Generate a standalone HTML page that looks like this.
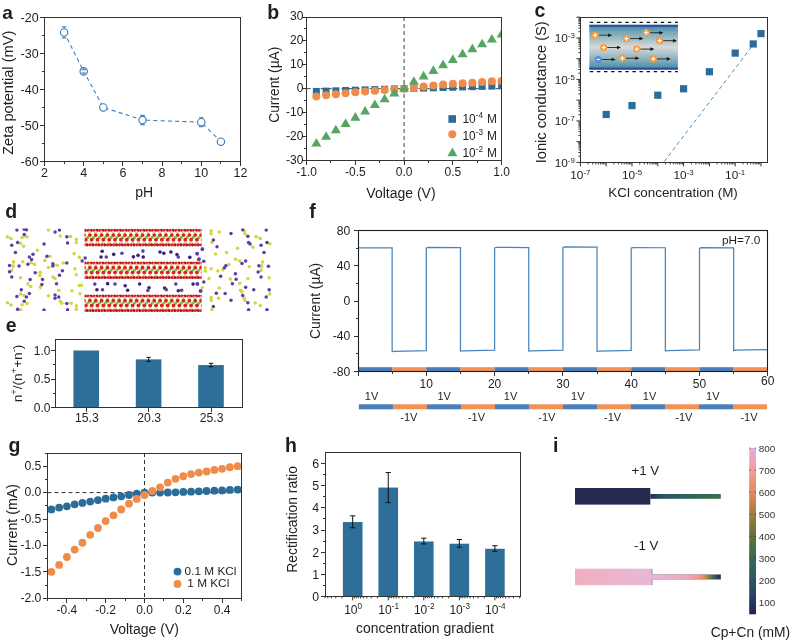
<!DOCTYPE html>
<html><head><meta charset="utf-8"><style>
html,body{margin:0;padding:0;background:#fff;overflow:hidden;}
svg{display:block;will-change:transform;font-family:"Liberation Sans", sans-serif;}
</style></head><body>
<svg width="791" height="640" viewBox="0 0 791 640">
<rect width="791" height="640" fill="#fff"/>
<text x="2.30" y="18.50" font-size="19.0" text-anchor="start" fill="#1e1e1e" font-weight="bold">a</text>
<path d="M64.10,32.44 C64.10,32.44 83.70,71.38 83.70,71.38 C83.70,71.38 103.30,107.42 103.30,107.42 C103.30,107.42 142.50,120.04 142.50,120.04 C142.50,120.04 201.30,122.21 201.30,122.21 C201.30,122.21 220.90,141.67 220.90,141.67" fill="none" stroke="#3f7fbc" stroke-width="1.1" stroke-dasharray="4,3.2"/>
<circle cx="64.10" cy="32.44" r="3.7" fill="#fff" stroke="#3f7fbc" stroke-width="1.15"/>
<line x1="64.10" y1="28.74" x2="64.10" y2="26.85" stroke="#3f7fbc" stroke-width="1"/>
<line x1="64.10" y1="36.14" x2="64.10" y2="38.03" stroke="#3f7fbc" stroke-width="1"/>
<line x1="61.80" y1="26.85" x2="66.40" y2="26.85" stroke="#3f7fbc" stroke-width="1.1"/>
<line x1="61.80" y1="38.03" x2="66.40" y2="38.03" stroke="#3f7fbc" stroke-width="1.1"/>
<circle cx="83.70" cy="71.38" r="3.7" fill="#fff" stroke="#3f7fbc" stroke-width="1.15"/>
<line x1="83.70" y1="67.67" x2="83.70" y2="69.75" stroke="#3f7fbc" stroke-width="1"/>
<line x1="83.70" y1="75.08" x2="83.70" y2="73.00" stroke="#3f7fbc" stroke-width="1"/>
<line x1="81.40" y1="69.75" x2="86.00" y2="69.75" stroke="#3f7fbc" stroke-width="1.1"/>
<line x1="81.40" y1="73.00" x2="86.00" y2="73.00" stroke="#3f7fbc" stroke-width="1.1"/>
<circle cx="103.30" cy="107.42" r="3.7" fill="#fff" stroke="#3f7fbc" stroke-width="1.15"/>
<circle cx="142.50" cy="120.04" r="3.7" fill="#fff" stroke="#3f7fbc" stroke-width="1.15"/>
<line x1="142.50" y1="116.34" x2="142.50" y2="115.36" stroke="#3f7fbc" stroke-width="1"/>
<line x1="142.50" y1="123.74" x2="142.50" y2="124.73" stroke="#3f7fbc" stroke-width="1"/>
<line x1="140.20" y1="115.36" x2="144.80" y2="115.36" stroke="#3f7fbc" stroke-width="1.1"/>
<line x1="140.20" y1="124.73" x2="144.80" y2="124.73" stroke="#3f7fbc" stroke-width="1.1"/>
<circle cx="201.30" cy="122.21" r="3.7" fill="#fff" stroke="#3f7fbc" stroke-width="1.15"/>
<line x1="201.30" y1="118.51" x2="201.30" y2="117.70" stroke="#3f7fbc" stroke-width="1"/>
<line x1="201.30" y1="125.91" x2="201.30" y2="126.71" stroke="#3f7fbc" stroke-width="1"/>
<line x1="199.00" y1="117.70" x2="203.60" y2="117.70" stroke="#3f7fbc" stroke-width="1.1"/>
<line x1="199.00" y1="126.71" x2="203.60" y2="126.71" stroke="#3f7fbc" stroke-width="1.1"/>
<circle cx="220.90" cy="141.67" r="3.7" fill="#fff" stroke="#3f7fbc" stroke-width="1.15"/>
<rect x="44.50" y="17.50" width="196.00" height="144.00" fill="none" stroke="#333333" stroke-width="1"/>
<line x1="44.50" y1="161.00" x2="44.50" y2="166.00" stroke="#333333" stroke-width="1"/>
<line x1="83.50" y1="161.00" x2="83.50" y2="166.00" stroke="#333333" stroke-width="1"/>
<line x1="122.50" y1="161.00" x2="122.50" y2="166.00" stroke="#333333" stroke-width="1"/>
<line x1="162.50" y1="161.00" x2="162.50" y2="166.00" stroke="#333333" stroke-width="1"/>
<line x1="201.50" y1="161.00" x2="201.50" y2="166.00" stroke="#333333" stroke-width="1"/>
<line x1="240.50" y1="161.00" x2="240.50" y2="166.00" stroke="#333333" stroke-width="1"/>
<line x1="64.50" y1="161.00" x2="64.50" y2="164.00" stroke="#333333" stroke-width="1"/>
<line x1="103.50" y1="161.00" x2="103.50" y2="164.00" stroke="#333333" stroke-width="1"/>
<line x1="142.50" y1="161.00" x2="142.50" y2="164.00" stroke="#333333" stroke-width="1"/>
<line x1="181.50" y1="161.00" x2="181.50" y2="164.00" stroke="#333333" stroke-width="1"/>
<line x1="220.50" y1="161.00" x2="220.50" y2="164.00" stroke="#333333" stroke-width="1"/>
<line x1="40.00" y1="161.50" x2="45.00" y2="161.50" stroke="#333333" stroke-width="1"/>
<line x1="40.00" y1="125.50" x2="45.00" y2="125.50" stroke="#333333" stroke-width="1"/>
<line x1="40.00" y1="89.50" x2="45.00" y2="89.50" stroke="#333333" stroke-width="1"/>
<line x1="40.00" y1="53.50" x2="45.00" y2="53.50" stroke="#333333" stroke-width="1"/>
<line x1="40.00" y1="17.50" x2="45.00" y2="17.50" stroke="#333333" stroke-width="1"/>
<line x1="42.00" y1="143.50" x2="45.00" y2="143.50" stroke="#333333" stroke-width="1"/>
<line x1="42.00" y1="107.50" x2="45.00" y2="107.50" stroke="#333333" stroke-width="1"/>
<line x1="42.00" y1="71.50" x2="45.00" y2="71.50" stroke="#333333" stroke-width="1"/>
<line x1="42.00" y1="35.50" x2="45.00" y2="35.50" stroke="#333333" stroke-width="1"/>
<text x="44.50" y="177.00" font-size="12.5" text-anchor="middle" fill="#1e1e1e">2</text>
<text x="83.70" y="177.00" font-size="12.5" text-anchor="middle" fill="#1e1e1e">4</text>
<text x="122.90" y="177.00" font-size="12.5" text-anchor="middle" fill="#1e1e1e">6</text>
<text x="162.10" y="177.00" font-size="12.5" text-anchor="middle" fill="#1e1e1e">8</text>
<text x="201.30" y="177.00" font-size="12.5" text-anchor="middle" fill="#1e1e1e">10</text>
<text x="240.50" y="177.00" font-size="12.5" text-anchor="middle" fill="#1e1e1e">12</text>
<text x="38.60" y="166.00" font-size="12.5" text-anchor="end" fill="#1e1e1e">-60</text>
<text x="38.60" y="129.95" font-size="12.5" text-anchor="end" fill="#1e1e1e">-50</text>
<text x="38.60" y="93.90" font-size="12.5" text-anchor="end" fill="#1e1e1e">-40</text>
<text x="38.60" y="57.85" font-size="12.5" text-anchor="end" fill="#1e1e1e">-30</text>
<text x="38.60" y="21.80" font-size="12.5" text-anchor="end" fill="#1e1e1e">-20</text>
<text x="144.20" y="197.20" font-size="14.0" text-anchor="middle" fill="#1e1e1e">pH</text>
<text x="12.90" y="92.80" font-size="14.6" text-anchor="middle" fill="#1e1e1e" transform="rotate(-90 12.90 92.80)">Zeta potential (mV)</text>
<text x="267.20" y="19.00" font-size="19.5" text-anchor="start" fill="#1e1e1e" font-weight="bold">b</text>
<clipPath id="cb"><rect x="306.6" y="17.0" width="195.0" height="143.3"/></clipPath>
<line x1="404.10" y1="17.00" x2="404.10" y2="160.30" stroke="#444" stroke-width="1" stroke-dasharray="4,3"/>
<line x1="306.60" y1="88.65" x2="501.60" y2="88.65" stroke="#444" stroke-width="1" stroke-dasharray="4,3"/>
<g clip-path="url(#cb)">
<rect x="312.85" y="87.94" width="7.00" height="7.00" fill="#2b6d98"/>
<rect x="322.60" y="87.63" width="7.00" height="7.00" fill="#2b6d98"/>
<rect x="332.35" y="87.32" width="7.00" height="7.00" fill="#2b6d98"/>
<rect x="342.10" y="87.01" width="7.00" height="7.00" fill="#2b6d98"/>
<rect x="351.85" y="86.70" width="7.00" height="7.00" fill="#2b6d98"/>
<rect x="361.60" y="86.39" width="7.00" height="7.00" fill="#2b6d98"/>
<rect x="371.35" y="86.08" width="7.00" height="7.00" fill="#2b6d98"/>
<rect x="381.10" y="85.77" width="7.00" height="7.00" fill="#2b6d98"/>
<rect x="390.85" y="85.46" width="7.00" height="7.00" fill="#2b6d98"/>
<rect x="400.60" y="85.15" width="7.00" height="7.00" fill="#2b6d98"/>
<rect x="410.35" y="84.86" width="7.00" height="7.00" fill="#2b6d98"/>
<rect x="420.10" y="84.58" width="7.00" height="7.00" fill="#2b6d98"/>
<rect x="429.85" y="84.29" width="7.00" height="7.00" fill="#2b6d98"/>
<rect x="439.60" y="84.00" width="7.00" height="7.00" fill="#2b6d98"/>
<rect x="449.35" y="83.72" width="7.00" height="7.00" fill="#2b6d98"/>
<rect x="459.10" y="83.43" width="7.00" height="7.00" fill="#2b6d98"/>
<rect x="468.85" y="83.14" width="7.00" height="7.00" fill="#2b6d98"/>
<rect x="478.60" y="82.86" width="7.00" height="7.00" fill="#2b6d98"/>
<rect x="488.35" y="82.57" width="7.00" height="7.00" fill="#2b6d98"/>
<rect x="498.10" y="82.28" width="7.00" height="7.00" fill="#2b6d98"/>
<circle cx="316.35" cy="96.53" r="4" fill="#f08c4a"/>
<circle cx="326.10" cy="95.34" r="4" fill="#f08c4a"/>
<circle cx="335.85" cy="94.26" r="4" fill="#f08c4a"/>
<circle cx="345.60" cy="93.19" r="4" fill="#f08c4a"/>
<circle cx="355.35" cy="92.35" r="4" fill="#f08c4a"/>
<circle cx="365.10" cy="91.52" r="4" fill="#f08c4a"/>
<circle cx="374.85" cy="90.80" r="4" fill="#f08c4a"/>
<circle cx="384.60" cy="90.08" r="4" fill="#f08c4a"/>
<circle cx="394.35" cy="89.13" r="4" fill="#f08c4a"/>
<circle cx="404.10" cy="88.65" r="4" fill="#f08c4a"/>
<circle cx="413.85" cy="87.93" r="4" fill="#f08c4a"/>
<circle cx="423.60" cy="86.50" r="4" fill="#f08c4a"/>
<circle cx="433.35" cy="85.55" r="4" fill="#f08c4a"/>
<circle cx="443.10" cy="84.59" r="4" fill="#f08c4a"/>
<circle cx="452.85" cy="83.87" r="4" fill="#f08c4a"/>
<circle cx="462.60" cy="83.16" r="4" fill="#f08c4a"/>
<circle cx="472.35" cy="82.68" r="4" fill="#f08c4a"/>
<circle cx="482.10" cy="81.96" r="4" fill="#f08c4a"/>
<circle cx="491.85" cy="81.25" r="4" fill="#f08c4a"/>
<circle cx="501.60" cy="80.89" r="4" fill="#f08c4a"/>
<path d="M316.35,137.89 L321.35,146.49 L311.35,146.49Z" fill="#55a662"/>
<path d="M326.10,131.20 L331.10,139.80 L321.10,139.80Z" fill="#55a662"/>
<path d="M335.85,124.75 L340.85,133.35 L330.85,133.35Z" fill="#55a662"/>
<path d="M345.60,118.30 L350.60,126.90 L340.60,126.90Z" fill="#55a662"/>
<path d="M355.35,112.09 L360.35,120.69 L350.35,120.69Z" fill="#55a662"/>
<path d="M365.10,105.88 L370.10,114.48 L360.10,114.48Z" fill="#55a662"/>
<path d="M374.85,99.44 L379.85,108.04 L369.85,108.04Z" fill="#55a662"/>
<path d="M384.60,93.70 L389.60,102.30 L379.60,102.30Z" fill="#55a662"/>
<path d="M394.35,87.85 L399.35,96.45 L389.35,96.45Z" fill="#55a662"/>
<path d="M404.10,82.96 L409.10,91.56 L399.10,91.56Z" fill="#55a662"/>
<path d="M413.85,76.27 L418.85,84.87 L408.85,84.87Z" fill="#55a662"/>
<path d="M423.60,70.78 L428.60,79.38 L418.60,79.38Z" fill="#55a662"/>
<path d="M433.35,65.28 L438.35,73.88 L428.35,73.88Z" fill="#55a662"/>
<path d="M443.10,59.55 L448.10,68.15 L438.10,68.15Z" fill="#55a662"/>
<path d="M452.85,54.30 L457.85,62.90 L447.85,62.90Z" fill="#55a662"/>
<path d="M462.60,48.68 L467.60,57.28 L457.60,57.28Z" fill="#55a662"/>
<path d="M472.35,43.55 L477.35,52.15 L467.35,52.15Z" fill="#55a662"/>
<path d="M482.10,38.77 L487.10,47.37 L477.10,47.37Z" fill="#55a662"/>
<path d="M491.85,34.00 L496.85,42.60 L486.85,42.60Z" fill="#55a662"/>
<path d="M501.60,28.98 L506.60,37.58 L496.60,37.58Z" fill="#55a662"/>
</g>
<rect x="306.50" y="17.50" width="195.00" height="143.00" fill="none" stroke="#333333" stroke-width="1"/>
<line x1="306.50" y1="160.00" x2="306.50" y2="165.00" stroke="#333333" stroke-width="1"/>
<line x1="355.50" y1="160.00" x2="355.50" y2="165.00" stroke="#333333" stroke-width="1"/>
<line x1="404.50" y1="160.00" x2="404.50" y2="165.00" stroke="#333333" stroke-width="1"/>
<line x1="452.50" y1="160.00" x2="452.50" y2="165.00" stroke="#333333" stroke-width="1"/>
<line x1="501.50" y1="160.00" x2="501.50" y2="165.00" stroke="#333333" stroke-width="1"/>
<line x1="330.50" y1="160.00" x2="330.50" y2="163.00" stroke="#333333" stroke-width="1"/>
<line x1="379.50" y1="160.00" x2="379.50" y2="163.00" stroke="#333333" stroke-width="1"/>
<line x1="428.50" y1="160.00" x2="428.50" y2="163.00" stroke="#333333" stroke-width="1"/>
<line x1="477.50" y1="160.00" x2="477.50" y2="163.00" stroke="#333333" stroke-width="1"/>
<line x1="302.00" y1="160.50" x2="307.00" y2="160.50" stroke="#333333" stroke-width="1"/>
<line x1="302.00" y1="136.50" x2="307.00" y2="136.50" stroke="#333333" stroke-width="1"/>
<line x1="302.00" y1="112.50" x2="307.00" y2="112.50" stroke="#333333" stroke-width="1"/>
<line x1="302.00" y1="88.50" x2="307.00" y2="88.50" stroke="#333333" stroke-width="1"/>
<line x1="302.00" y1="64.50" x2="307.00" y2="64.50" stroke="#333333" stroke-width="1"/>
<line x1="302.00" y1="40.50" x2="307.00" y2="40.50" stroke="#333333" stroke-width="1"/>
<line x1="302.00" y1="17.50" x2="307.00" y2="17.50" stroke="#333333" stroke-width="1"/>
<line x1="304.00" y1="148.50" x2="307.00" y2="148.50" stroke="#333333" stroke-width="1"/>
<line x1="304.00" y1="124.50" x2="307.00" y2="124.50" stroke="#333333" stroke-width="1"/>
<line x1="304.00" y1="100.50" x2="307.00" y2="100.50" stroke="#333333" stroke-width="1"/>
<line x1="304.00" y1="76.50" x2="307.00" y2="76.50" stroke="#333333" stroke-width="1"/>
<line x1="304.00" y1="52.50" x2="307.00" y2="52.50" stroke="#333333" stroke-width="1"/>
<line x1="304.00" y1="28.50" x2="307.00" y2="28.50" stroke="#333333" stroke-width="1"/>
<text x="306.60" y="175.80" font-size="12.0" text-anchor="middle" fill="#1e1e1e">-1.0</text>
<text x="355.35" y="175.80" font-size="12.0" text-anchor="middle" fill="#1e1e1e">-0.5</text>
<text x="404.10" y="175.80" font-size="12.0" text-anchor="middle" fill="#1e1e1e">0.0</text>
<text x="452.85" y="175.80" font-size="12.0" text-anchor="middle" fill="#1e1e1e">0.5</text>
<text x="501.60" y="175.80" font-size="12.0" text-anchor="middle" fill="#1e1e1e">1.0</text>
<text x="303.40" y="163.70" font-size="12.0" text-anchor="end" fill="#1e1e1e">-30</text>
<text x="303.40" y="139.82" font-size="12.0" text-anchor="end" fill="#1e1e1e">-20</text>
<text x="303.40" y="115.93" font-size="12.0" text-anchor="end" fill="#1e1e1e">-10</text>
<text x="303.40" y="92.05" font-size="12.0" text-anchor="end" fill="#1e1e1e">0</text>
<text x="303.40" y="68.17" font-size="12.0" text-anchor="end" fill="#1e1e1e">10</text>
<text x="303.40" y="44.28" font-size="12.0" text-anchor="end" fill="#1e1e1e">20</text>
<text x="303.40" y="20.40" font-size="12.0" text-anchor="end" fill="#1e1e1e">30</text>
<rect x="448.40" y="115.20" width="7.60" height="7.60" fill="#2b6d98"/>
<circle cx="452.3" cy="134.3" r="4" fill="#f08c4a"/>
<path d="M452.4,147.6 L457.4,156.2 L447.4,156.2Z" fill="#55a662"/>
<text x="462.50" y="122.80" font-size="11.9" text-anchor="start" fill="#1e1e1e">10<tspan dy="-4.60" font-size="8.2">-4</tspan><tspan dy="4.6" dx="0.8"> M</tspan></text>
<text x="462.50" y="139.90" font-size="11.9" text-anchor="start" fill="#1e1e1e">10<tspan dy="-4.60" font-size="8.2">-3</tspan><tspan dy="4.6" dx="0.8"> M</tspan></text>
<text x="462.50" y="156.60" font-size="11.9" text-anchor="start" fill="#1e1e1e">10<tspan dy="-4.60" font-size="8.2">-2</tspan><tspan dy="4.6" dx="0.8"> M</tspan></text>
<text x="401.00" y="198.10" font-size="14.0" text-anchor="middle" fill="#1e1e1e">Voltage (V)</text>
<text x="278.60" y="84.70" font-size="13.8" text-anchor="middle" fill="#1e1e1e" transform="rotate(-90 278.60 84.70)">Current (µA)</text>
<text x="534.60" y="17.30" font-size="19.5" text-anchor="start" fill="#1e1e1e" font-weight="bold">c</text>
<linearGradient id="chg" x1="0" y1="0" x2="0" y2="1"><stop offset="0" stop-color="#3d86a0"/><stop offset="0.18" stop-color="#7aa9b8"/><stop offset="0.5" stop-color="#d9d9d9"/><stop offset="0.82" stop-color="#7aa9b8"/><stop offset="1" stop-color="#3d86a0"/></linearGradient>
<rect x="589.30" y="24.80" width="88.60" height="44.80" fill="url(#chg)"/>
<rect x="589.30" y="24.80" width="88.60" height="2.00" fill="#2a4f9c"/>
<rect x="589.30" y="67.60" width="88.60" height="2.00" fill="#2a4f9c"/>
<line x1="589.80" y1="22.30" x2="677.90" y2="22.30" stroke="#111" stroke-width="1.3" stroke-dasharray="3.4,3.7"/>
<line x1="589.80" y1="71.60" x2="677.90" y2="71.60" stroke="#111" stroke-width="1.3" stroke-dasharray="3.4,3.7"/>
<marker id="ah" markerWidth="4" markerHeight="4" refX="3.2" refY="2" orient="auto" markerUnits="userSpaceOnUse"><path d="M0,0.3 L4,2 L0,3.7Z" fill="#111"/></marker>
<line x1="601.80" y1="59.50" x2="612.60" y2="59.50" stroke="#222" stroke-width="0.9"/>
<path d="M611.60,57.70 L615.60,59.50 L611.60,61.30Z" fill="#111"/>
<circle cx="598.3" cy="59.5" r="3.5" fill="#5b8fd6"/>
<line x1="596.80" y1="59.50" x2="599.80" y2="59.50" stroke="#fff" stroke-width="1.1"/>
<line x1="598.60" y1="35.20" x2="609.20" y2="35.20" stroke="#222" stroke-width="0.9"/>
<path d="M608.20,33.40 L612.20,35.20 L608.20,37.00Z" fill="#111"/>
<circle cx="595.10" cy="35.20" r="3.6" fill="#f39a3a"/>
<line x1="592.90" y1="35.20" x2="597.30" y2="35.20" stroke="#fff" stroke-width="1.1"/>
<line x1="595.10" y1="33.00" x2="595.10" y2="37.40" stroke="#fff" stroke-width="1.1"/>
<line x1="630.00" y1="38.60" x2="640.40" y2="38.60" stroke="#222" stroke-width="0.9"/>
<path d="M639.40,36.80 L643.40,38.60 L639.40,40.40Z" fill="#111"/>
<circle cx="626.50" cy="38.60" r="3.6" fill="#f39a3a"/>
<line x1="624.30" y1="38.60" x2="628.70" y2="38.60" stroke="#fff" stroke-width="1.1"/>
<line x1="626.50" y1="36.40" x2="626.50" y2="40.80" stroke="#fff" stroke-width="1.1"/>
<line x1="649.80" y1="32.70" x2="660.40" y2="32.70" stroke="#222" stroke-width="0.9"/>
<path d="M659.40,30.90 L663.40,32.70 L659.40,34.50Z" fill="#111"/>
<circle cx="646.30" cy="32.70" r="3.6" fill="#f39a3a"/>
<line x1="644.10" y1="32.70" x2="648.50" y2="32.70" stroke="#fff" stroke-width="1.1"/>
<line x1="646.30" y1="30.50" x2="646.30" y2="34.90" stroke="#fff" stroke-width="1.1"/>
<line x1="663.10" y1="40.70" x2="674.00" y2="40.70" stroke="#222" stroke-width="0.9"/>
<path d="M673.00,38.90 L677.00,40.70 L673.00,42.50Z" fill="#111"/>
<circle cx="659.60" cy="40.70" r="3.6" fill="#f39a3a"/>
<line x1="657.40" y1="40.70" x2="661.80" y2="40.70" stroke="#fff" stroke-width="1.1"/>
<line x1="659.60" y1="38.50" x2="659.60" y2="42.90" stroke="#fff" stroke-width="1.1"/>
<line x1="607.20" y1="47.50" x2="618.00" y2="47.50" stroke="#222" stroke-width="0.9"/>
<path d="M617.00,45.70 L621.00,47.50 L617.00,49.30Z" fill="#111"/>
<circle cx="603.70" cy="47.50" r="3.6" fill="#f39a3a"/>
<line x1="601.50" y1="47.50" x2="605.90" y2="47.50" stroke="#fff" stroke-width="1.1"/>
<line x1="603.70" y1="45.30" x2="603.70" y2="49.70" stroke="#fff" stroke-width="1.1"/>
<line x1="640.30" y1="49.10" x2="651.30" y2="49.10" stroke="#222" stroke-width="0.9"/>
<path d="M650.30,47.30 L654.30,49.10 L650.30,50.90Z" fill="#111"/>
<circle cx="636.80" cy="49.10" r="3.6" fill="#f39a3a"/>
<line x1="634.60" y1="49.10" x2="639.00" y2="49.10" stroke="#fff" stroke-width="1.1"/>
<line x1="636.80" y1="46.90" x2="636.80" y2="51.30" stroke="#fff" stroke-width="1.1"/>
<line x1="625.80" y1="58.20" x2="636.40" y2="58.20" stroke="#222" stroke-width="0.9"/>
<path d="M635.40,56.40 L639.40,58.20 L635.40,60.00Z" fill="#111"/>
<circle cx="622.30" cy="58.20" r="3.6" fill="#f39a3a"/>
<line x1="620.10" y1="58.20" x2="624.50" y2="58.20" stroke="#fff" stroke-width="1.1"/>
<line x1="622.30" y1="56.00" x2="622.30" y2="60.40" stroke="#fff" stroke-width="1.1"/>
<line x1="656.80" y1="58.90" x2="667.70" y2="58.90" stroke="#222" stroke-width="0.9"/>
<path d="M666.70,57.10 L670.70,58.90 L666.70,60.70Z" fill="#111"/>
<circle cx="653.30" cy="58.90" r="3.6" fill="#f39a3a"/>
<line x1="651.10" y1="58.90" x2="655.50" y2="58.90" stroke="#fff" stroke-width="1.1"/>
<line x1="653.30" y1="56.70" x2="653.30" y2="61.10" stroke="#fff" stroke-width="1.1"/>
<line x1="664.20" y1="161.50" x2="751.50" y2="47.00" stroke="#4a8fc0" stroke-width="1" stroke-dasharray="4,3"/>
<rect x="602.60" y="110.88" width="7.20" height="7.20" fill="#2b6d98"/>
<rect x="628.40" y="101.96" width="7.20" height="7.20" fill="#2b6d98"/>
<rect x="654.20" y="91.59" width="7.20" height="7.20" fill="#2b6d98"/>
<rect x="680.00" y="85.16" width="7.20" height="7.20" fill="#2b6d98"/>
<rect x="705.80" y="68.15" width="7.20" height="7.20" fill="#2b6d98"/>
<rect x="731.60" y="49.49" width="7.20" height="7.20" fill="#2b6d98"/>
<rect x="749.63" y="40.36" width="7.20" height="7.20" fill="#2b6d98"/>
<rect x="757.40" y="29.99" width="7.20" height="7.20" fill="#2b6d98"/>
<rect x="580.50" y="17.50" width="187.00" height="145.00" fill="none" stroke="#333333" stroke-width="1"/>
<line x1="580.40" y1="162.40" x2="580.40" y2="166.40" stroke="#333333" stroke-width="1"/>
<line x1="588.17" y1="162.40" x2="588.17" y2="164.40" stroke="#333333" stroke-width="1"/>
<line x1="592.71" y1="162.40" x2="592.71" y2="164.40" stroke="#333333" stroke-width="1"/>
<line x1="595.93" y1="162.40" x2="595.93" y2="164.40" stroke="#333333" stroke-width="1"/>
<line x1="598.43" y1="162.40" x2="598.43" y2="164.40" stroke="#333333" stroke-width="1"/>
<line x1="600.48" y1="162.40" x2="600.48" y2="164.40" stroke="#333333" stroke-width="1"/>
<line x1="602.20" y1="162.40" x2="602.20" y2="164.40" stroke="#333333" stroke-width="1"/>
<line x1="603.70" y1="162.40" x2="603.70" y2="164.40" stroke="#333333" stroke-width="1"/>
<line x1="605.02" y1="162.40" x2="605.02" y2="164.40" stroke="#333333" stroke-width="1"/>
<line x1="606.20" y1="162.40" x2="606.20" y2="166.40" stroke="#333333" stroke-width="1"/>
<line x1="613.97" y1="162.40" x2="613.97" y2="164.40" stroke="#333333" stroke-width="1"/>
<line x1="618.51" y1="162.40" x2="618.51" y2="164.40" stroke="#333333" stroke-width="1"/>
<line x1="621.73" y1="162.40" x2="621.73" y2="164.40" stroke="#333333" stroke-width="1"/>
<line x1="624.23" y1="162.40" x2="624.23" y2="164.40" stroke="#333333" stroke-width="1"/>
<line x1="626.28" y1="162.40" x2="626.28" y2="164.40" stroke="#333333" stroke-width="1"/>
<line x1="628.00" y1="162.40" x2="628.00" y2="164.40" stroke="#333333" stroke-width="1"/>
<line x1="629.50" y1="162.40" x2="629.50" y2="164.40" stroke="#333333" stroke-width="1"/>
<line x1="630.82" y1="162.40" x2="630.82" y2="164.40" stroke="#333333" stroke-width="1"/>
<line x1="632.00" y1="162.40" x2="632.00" y2="166.40" stroke="#333333" stroke-width="1"/>
<line x1="639.77" y1="162.40" x2="639.77" y2="164.40" stroke="#333333" stroke-width="1"/>
<line x1="644.31" y1="162.40" x2="644.31" y2="164.40" stroke="#333333" stroke-width="1"/>
<line x1="647.53" y1="162.40" x2="647.53" y2="164.40" stroke="#333333" stroke-width="1"/>
<line x1="650.03" y1="162.40" x2="650.03" y2="164.40" stroke="#333333" stroke-width="1"/>
<line x1="652.08" y1="162.40" x2="652.08" y2="164.40" stroke="#333333" stroke-width="1"/>
<line x1="653.80" y1="162.40" x2="653.80" y2="164.40" stroke="#333333" stroke-width="1"/>
<line x1="655.30" y1="162.40" x2="655.30" y2="164.40" stroke="#333333" stroke-width="1"/>
<line x1="656.62" y1="162.40" x2="656.62" y2="164.40" stroke="#333333" stroke-width="1"/>
<line x1="657.80" y1="162.40" x2="657.80" y2="166.40" stroke="#333333" stroke-width="1"/>
<line x1="665.57" y1="162.40" x2="665.57" y2="164.40" stroke="#333333" stroke-width="1"/>
<line x1="670.11" y1="162.40" x2="670.11" y2="164.40" stroke="#333333" stroke-width="1"/>
<line x1="673.33" y1="162.40" x2="673.33" y2="164.40" stroke="#333333" stroke-width="1"/>
<line x1="675.83" y1="162.40" x2="675.83" y2="164.40" stroke="#333333" stroke-width="1"/>
<line x1="677.88" y1="162.40" x2="677.88" y2="164.40" stroke="#333333" stroke-width="1"/>
<line x1="679.60" y1="162.40" x2="679.60" y2="164.40" stroke="#333333" stroke-width="1"/>
<line x1="681.10" y1="162.40" x2="681.10" y2="164.40" stroke="#333333" stroke-width="1"/>
<line x1="682.42" y1="162.40" x2="682.42" y2="164.40" stroke="#333333" stroke-width="1"/>
<line x1="683.60" y1="162.40" x2="683.60" y2="166.40" stroke="#333333" stroke-width="1"/>
<line x1="691.37" y1="162.40" x2="691.37" y2="164.40" stroke="#333333" stroke-width="1"/>
<line x1="695.91" y1="162.40" x2="695.91" y2="164.40" stroke="#333333" stroke-width="1"/>
<line x1="699.13" y1="162.40" x2="699.13" y2="164.40" stroke="#333333" stroke-width="1"/>
<line x1="701.63" y1="162.40" x2="701.63" y2="164.40" stroke="#333333" stroke-width="1"/>
<line x1="703.68" y1="162.40" x2="703.68" y2="164.40" stroke="#333333" stroke-width="1"/>
<line x1="705.40" y1="162.40" x2="705.40" y2="164.40" stroke="#333333" stroke-width="1"/>
<line x1="706.90" y1="162.40" x2="706.90" y2="164.40" stroke="#333333" stroke-width="1"/>
<line x1="708.22" y1="162.40" x2="708.22" y2="164.40" stroke="#333333" stroke-width="1"/>
<line x1="709.40" y1="162.40" x2="709.40" y2="166.40" stroke="#333333" stroke-width="1"/>
<line x1="717.17" y1="162.40" x2="717.17" y2="164.40" stroke="#333333" stroke-width="1"/>
<line x1="721.71" y1="162.40" x2="721.71" y2="164.40" stroke="#333333" stroke-width="1"/>
<line x1="724.93" y1="162.40" x2="724.93" y2="164.40" stroke="#333333" stroke-width="1"/>
<line x1="727.43" y1="162.40" x2="727.43" y2="164.40" stroke="#333333" stroke-width="1"/>
<line x1="729.48" y1="162.40" x2="729.48" y2="164.40" stroke="#333333" stroke-width="1"/>
<line x1="731.20" y1="162.40" x2="731.20" y2="164.40" stroke="#333333" stroke-width="1"/>
<line x1="732.70" y1="162.40" x2="732.70" y2="164.40" stroke="#333333" stroke-width="1"/>
<line x1="734.02" y1="162.40" x2="734.02" y2="164.40" stroke="#333333" stroke-width="1"/>
<line x1="735.20" y1="162.40" x2="735.20" y2="166.40" stroke="#333333" stroke-width="1"/>
<line x1="742.97" y1="162.40" x2="742.97" y2="164.40" stroke="#333333" stroke-width="1"/>
<line x1="747.51" y1="162.40" x2="747.51" y2="164.40" stroke="#333333" stroke-width="1"/>
<line x1="750.73" y1="162.40" x2="750.73" y2="164.40" stroke="#333333" stroke-width="1"/>
<line x1="753.23" y1="162.40" x2="753.23" y2="164.40" stroke="#333333" stroke-width="1"/>
<line x1="755.28" y1="162.40" x2="755.28" y2="164.40" stroke="#333333" stroke-width="1"/>
<line x1="757.00" y1="162.40" x2="757.00" y2="164.40" stroke="#333333" stroke-width="1"/>
<line x1="758.50" y1="162.40" x2="758.50" y2="164.40" stroke="#333333" stroke-width="1"/>
<line x1="759.82" y1="162.40" x2="759.82" y2="164.40" stroke="#333333" stroke-width="1"/>
<line x1="761.00" y1="162.40" x2="761.00" y2="166.40" stroke="#333333" stroke-width="1"/>
<line x1="576.40" y1="162.40" x2="580.40" y2="162.40" stroke="#333333" stroke-width="1"/>
<line x1="578.40" y1="156.16" x2="580.40" y2="156.16" stroke="#333333" stroke-width="1"/>
<line x1="578.40" y1="152.50" x2="580.40" y2="152.50" stroke="#333333" stroke-width="1"/>
<line x1="578.40" y1="149.91" x2="580.40" y2="149.91" stroke="#333333" stroke-width="1"/>
<line x1="578.40" y1="147.90" x2="580.40" y2="147.90" stroke="#333333" stroke-width="1"/>
<line x1="578.40" y1="146.26" x2="580.40" y2="146.26" stroke="#333333" stroke-width="1"/>
<line x1="578.40" y1="144.87" x2="580.40" y2="144.87" stroke="#333333" stroke-width="1"/>
<line x1="578.40" y1="143.67" x2="580.40" y2="143.67" stroke="#333333" stroke-width="1"/>
<line x1="578.40" y1="142.61" x2="580.40" y2="142.61" stroke="#333333" stroke-width="1"/>
<line x1="576.40" y1="141.66" x2="580.40" y2="141.66" stroke="#333333" stroke-width="1"/>
<line x1="578.40" y1="135.41" x2="580.40" y2="135.41" stroke="#333333" stroke-width="1"/>
<line x1="578.40" y1="131.76" x2="580.40" y2="131.76" stroke="#333333" stroke-width="1"/>
<line x1="578.40" y1="129.17" x2="580.40" y2="129.17" stroke="#333333" stroke-width="1"/>
<line x1="578.40" y1="127.16" x2="580.40" y2="127.16" stroke="#333333" stroke-width="1"/>
<line x1="578.40" y1="125.52" x2="580.40" y2="125.52" stroke="#333333" stroke-width="1"/>
<line x1="578.40" y1="124.13" x2="580.40" y2="124.13" stroke="#333333" stroke-width="1"/>
<line x1="578.40" y1="122.92" x2="580.40" y2="122.92" stroke="#333333" stroke-width="1"/>
<line x1="578.40" y1="121.86" x2="580.40" y2="121.86" stroke="#333333" stroke-width="1"/>
<line x1="576.40" y1="120.91" x2="580.40" y2="120.91" stroke="#333333" stroke-width="1"/>
<line x1="578.40" y1="114.67" x2="580.40" y2="114.67" stroke="#333333" stroke-width="1"/>
<line x1="578.40" y1="111.02" x2="580.40" y2="111.02" stroke="#333333" stroke-width="1"/>
<line x1="578.40" y1="108.43" x2="580.40" y2="108.43" stroke="#333333" stroke-width="1"/>
<line x1="578.40" y1="106.42" x2="580.40" y2="106.42" stroke="#333333" stroke-width="1"/>
<line x1="578.40" y1="104.77" x2="580.40" y2="104.77" stroke="#333333" stroke-width="1"/>
<line x1="578.40" y1="103.38" x2="580.40" y2="103.38" stroke="#333333" stroke-width="1"/>
<line x1="578.40" y1="102.18" x2="580.40" y2="102.18" stroke="#333333" stroke-width="1"/>
<line x1="578.40" y1="101.12" x2="580.40" y2="101.12" stroke="#333333" stroke-width="1"/>
<line x1="576.40" y1="100.17" x2="580.40" y2="100.17" stroke="#333333" stroke-width="1"/>
<line x1="578.40" y1="93.93" x2="580.40" y2="93.93" stroke="#333333" stroke-width="1"/>
<line x1="578.40" y1="90.27" x2="580.40" y2="90.27" stroke="#333333" stroke-width="1"/>
<line x1="578.40" y1="87.68" x2="580.40" y2="87.68" stroke="#333333" stroke-width="1"/>
<line x1="578.40" y1="85.67" x2="580.40" y2="85.67" stroke="#333333" stroke-width="1"/>
<line x1="578.40" y1="84.03" x2="580.40" y2="84.03" stroke="#333333" stroke-width="1"/>
<line x1="578.40" y1="82.64" x2="580.40" y2="82.64" stroke="#333333" stroke-width="1"/>
<line x1="578.40" y1="81.44" x2="580.40" y2="81.44" stroke="#333333" stroke-width="1"/>
<line x1="578.40" y1="80.38" x2="580.40" y2="80.38" stroke="#333333" stroke-width="1"/>
<line x1="576.40" y1="79.43" x2="580.40" y2="79.43" stroke="#333333" stroke-width="1"/>
<line x1="578.40" y1="73.18" x2="580.40" y2="73.18" stroke="#333333" stroke-width="1"/>
<line x1="578.40" y1="69.53" x2="580.40" y2="69.53" stroke="#333333" stroke-width="1"/>
<line x1="578.40" y1="66.94" x2="580.40" y2="66.94" stroke="#333333" stroke-width="1"/>
<line x1="578.40" y1="64.93" x2="580.40" y2="64.93" stroke="#333333" stroke-width="1"/>
<line x1="578.40" y1="63.29" x2="580.40" y2="63.29" stroke="#333333" stroke-width="1"/>
<line x1="578.40" y1="61.90" x2="580.40" y2="61.90" stroke="#333333" stroke-width="1"/>
<line x1="578.40" y1="60.70" x2="580.40" y2="60.70" stroke="#333333" stroke-width="1"/>
<line x1="578.40" y1="59.63" x2="580.40" y2="59.63" stroke="#333333" stroke-width="1"/>
<line x1="576.40" y1="58.69" x2="580.40" y2="58.69" stroke="#333333" stroke-width="1"/>
<line x1="578.40" y1="52.44" x2="580.40" y2="52.44" stroke="#333333" stroke-width="1"/>
<line x1="578.40" y1="48.79" x2="580.40" y2="48.79" stroke="#333333" stroke-width="1"/>
<line x1="578.40" y1="46.20" x2="580.40" y2="46.20" stroke="#333333" stroke-width="1"/>
<line x1="578.40" y1="44.19" x2="580.40" y2="44.19" stroke="#333333" stroke-width="1"/>
<line x1="578.40" y1="42.54" x2="580.40" y2="42.54" stroke="#333333" stroke-width="1"/>
<line x1="578.40" y1="41.16" x2="580.40" y2="41.16" stroke="#333333" stroke-width="1"/>
<line x1="578.40" y1="39.95" x2="580.40" y2="39.95" stroke="#333333" stroke-width="1"/>
<line x1="578.40" y1="38.89" x2="580.40" y2="38.89" stroke="#333333" stroke-width="1"/>
<line x1="576.40" y1="37.94" x2="580.40" y2="37.94" stroke="#333333" stroke-width="1"/>
<line x1="578.40" y1="31.70" x2="580.40" y2="31.70" stroke="#333333" stroke-width="1"/>
<line x1="578.40" y1="28.05" x2="580.40" y2="28.05" stroke="#333333" stroke-width="1"/>
<line x1="578.40" y1="25.45" x2="580.40" y2="25.45" stroke="#333333" stroke-width="1"/>
<line x1="578.40" y1="23.44" x2="580.40" y2="23.44" stroke="#333333" stroke-width="1"/>
<line x1="578.40" y1="21.80" x2="580.40" y2="21.80" stroke="#333333" stroke-width="1"/>
<line x1="578.40" y1="20.41" x2="580.40" y2="20.41" stroke="#333333" stroke-width="1"/>
<line x1="578.40" y1="19.21" x2="580.40" y2="19.21" stroke="#333333" stroke-width="1"/>
<line x1="578.40" y1="18.15" x2="580.40" y2="18.15" stroke="#333333" stroke-width="1"/>
<line x1="576.40" y1="17.20" x2="580.40" y2="17.20" stroke="#333333" stroke-width="1"/>
<text x="580.40" y="179.30" font-size="11.8" text-anchor="middle" fill="#1e1e1e">10<tspan dy="-4.10" font-size="7.9">-7</tspan></text>
<text x="632.00" y="179.30" font-size="11.8" text-anchor="middle" fill="#1e1e1e">10<tspan dy="-4.10" font-size="7.9">-5</tspan></text>
<text x="683.60" y="179.30" font-size="11.8" text-anchor="middle" fill="#1e1e1e">10<tspan dy="-4.10" font-size="7.9">-3</tspan></text>
<text x="735.20" y="179.30" font-size="11.8" text-anchor="middle" fill="#1e1e1e">10<tspan dy="-4.10" font-size="7.9">-1</tspan></text>
<text x="574.80" y="42.14" font-size="11.8" text-anchor="end" fill="#1e1e1e">10<tspan dy="-4.10" font-size="7.9">-3</tspan></text>
<text x="574.80" y="83.63" font-size="11.8" text-anchor="end" fill="#1e1e1e">10<tspan dy="-4.10" font-size="7.9">-5</tspan></text>
<text x="574.80" y="125.11" font-size="11.8" text-anchor="end" fill="#1e1e1e">10<tspan dy="-4.10" font-size="7.9">-7</tspan></text>
<text x="574.80" y="166.60" font-size="11.8" text-anchor="end" fill="#1e1e1e">10<tspan dy="-4.10" font-size="7.9">-9</tspan></text>
<text x="673.10" y="197.40" font-size="13.4" text-anchor="middle" fill="#1e1e1e">KCl concentration (M)</text>
<text x="545.90" y="92.30" font-size="14.7" text-anchor="middle" fill="#1e1e1e" transform="rotate(-90 545.90 92.30)">Ionic conductance (S)</text>
<text x="5.20" y="217.80" font-size="19.5" text-anchor="start" fill="#1e1e1e" font-weight="bold">d</text>
<clipPath id="cd"><rect x="84.6" y="220" width="117.0" height="100"/></clipPath>
<g clip-path="url(#cd)">
<circle cx="82.35" cy="230.30" r="1.6" fill="#d8261e"/>
<circle cx="85.30" cy="230.30" r="1.6" fill="#b01818"/>
<circle cx="83.85" cy="232.00" r="1.55" fill="#efcaa8"/>
<circle cx="84.05" cy="235.10" r="1.95" fill="#d8261e"/>
<circle cx="81.95" cy="237.40" r="1.65" fill="#72c840"/>
<circle cx="79.95" cy="239.80" r="1.95" fill="#d8261e"/>
<circle cx="79.95" cy="243.10" r="1.55" fill="#efcaa8"/>
<circle cx="78.45" cy="244.80" r="1.6" fill="#d8261e"/>
<circle cx="81.40" cy="244.80" r="1.6" fill="#b01818"/>
<circle cx="88.20" cy="230.30" r="1.6" fill="#d8261e"/>
<circle cx="91.15" cy="230.30" r="1.6" fill="#b01818"/>
<circle cx="89.70" cy="232.00" r="1.55" fill="#efcaa8"/>
<circle cx="89.90" cy="235.10" r="1.95" fill="#d8261e"/>
<circle cx="87.80" cy="237.40" r="1.65" fill="#72c840"/>
<circle cx="85.80" cy="239.80" r="1.95" fill="#d8261e"/>
<circle cx="85.80" cy="243.10" r="1.55" fill="#efcaa8"/>
<circle cx="84.30" cy="244.80" r="1.6" fill="#d8261e"/>
<circle cx="87.25" cy="244.80" r="1.6" fill="#b01818"/>
<circle cx="94.05" cy="230.30" r="1.6" fill="#d8261e"/>
<circle cx="97.00" cy="230.30" r="1.6" fill="#b01818"/>
<circle cx="95.55" cy="232.00" r="1.55" fill="#efcaa8"/>
<circle cx="95.75" cy="235.10" r="1.95" fill="#d8261e"/>
<circle cx="93.65" cy="237.40" r="1.65" fill="#72c840"/>
<circle cx="91.65" cy="239.80" r="1.95" fill="#d8261e"/>
<circle cx="91.65" cy="243.10" r="1.55" fill="#efcaa8"/>
<circle cx="90.15" cy="244.80" r="1.6" fill="#d8261e"/>
<circle cx="93.10" cy="244.80" r="1.6" fill="#b01818"/>
<circle cx="99.90" cy="230.30" r="1.6" fill="#d8261e"/>
<circle cx="102.85" cy="230.30" r="1.6" fill="#b01818"/>
<circle cx="101.40" cy="232.00" r="1.55" fill="#efcaa8"/>
<circle cx="101.60" cy="235.10" r="1.95" fill="#d8261e"/>
<circle cx="99.50" cy="237.40" r="1.65" fill="#72c840"/>
<circle cx="97.50" cy="239.80" r="1.95" fill="#d8261e"/>
<circle cx="97.50" cy="243.10" r="1.55" fill="#efcaa8"/>
<circle cx="96.00" cy="244.80" r="1.6" fill="#d8261e"/>
<circle cx="98.95" cy="244.80" r="1.6" fill="#b01818"/>
<circle cx="105.75" cy="230.30" r="1.6" fill="#d8261e"/>
<circle cx="108.70" cy="230.30" r="1.6" fill="#b01818"/>
<circle cx="107.25" cy="232.00" r="1.55" fill="#efcaa8"/>
<circle cx="107.45" cy="235.10" r="1.95" fill="#d8261e"/>
<circle cx="105.35" cy="237.40" r="1.65" fill="#72c840"/>
<circle cx="103.35" cy="239.80" r="1.95" fill="#d8261e"/>
<circle cx="103.35" cy="243.10" r="1.55" fill="#efcaa8"/>
<circle cx="101.85" cy="244.80" r="1.6" fill="#d8261e"/>
<circle cx="104.80" cy="244.80" r="1.6" fill="#b01818"/>
<circle cx="111.60" cy="230.30" r="1.6" fill="#d8261e"/>
<circle cx="114.55" cy="230.30" r="1.6" fill="#b01818"/>
<circle cx="113.10" cy="232.00" r="1.55" fill="#efcaa8"/>
<circle cx="113.30" cy="235.10" r="1.95" fill="#d8261e"/>
<circle cx="111.20" cy="237.40" r="1.65" fill="#72c840"/>
<circle cx="109.20" cy="239.80" r="1.95" fill="#d8261e"/>
<circle cx="109.20" cy="243.10" r="1.55" fill="#efcaa8"/>
<circle cx="107.70" cy="244.80" r="1.6" fill="#d8261e"/>
<circle cx="110.65" cy="244.80" r="1.6" fill="#b01818"/>
<circle cx="117.45" cy="230.30" r="1.6" fill="#d8261e"/>
<circle cx="120.40" cy="230.30" r="1.6" fill="#b01818"/>
<circle cx="118.95" cy="232.00" r="1.55" fill="#efcaa8"/>
<circle cx="119.15" cy="235.10" r="1.95" fill="#d8261e"/>
<circle cx="117.05" cy="237.40" r="1.65" fill="#72c840"/>
<circle cx="115.05" cy="239.80" r="1.95" fill="#d8261e"/>
<circle cx="115.05" cy="243.10" r="1.55" fill="#efcaa8"/>
<circle cx="113.55" cy="244.80" r="1.6" fill="#d8261e"/>
<circle cx="116.50" cy="244.80" r="1.6" fill="#b01818"/>
<circle cx="123.30" cy="230.30" r="1.6" fill="#d8261e"/>
<circle cx="126.25" cy="230.30" r="1.6" fill="#b01818"/>
<circle cx="124.80" cy="232.00" r="1.55" fill="#efcaa8"/>
<circle cx="125.00" cy="235.10" r="1.95" fill="#d8261e"/>
<circle cx="122.90" cy="237.40" r="1.65" fill="#72c840"/>
<circle cx="120.90" cy="239.80" r="1.95" fill="#d8261e"/>
<circle cx="120.90" cy="243.10" r="1.55" fill="#efcaa8"/>
<circle cx="119.40" cy="244.80" r="1.6" fill="#d8261e"/>
<circle cx="122.35" cy="244.80" r="1.6" fill="#b01818"/>
<circle cx="129.15" cy="230.30" r="1.6" fill="#d8261e"/>
<circle cx="132.10" cy="230.30" r="1.6" fill="#b01818"/>
<circle cx="130.65" cy="232.00" r="1.55" fill="#efcaa8"/>
<circle cx="130.85" cy="235.10" r="1.95" fill="#d8261e"/>
<circle cx="128.75" cy="237.40" r="1.65" fill="#72c840"/>
<circle cx="126.75" cy="239.80" r="1.95" fill="#d8261e"/>
<circle cx="126.75" cy="243.10" r="1.55" fill="#efcaa8"/>
<circle cx="125.25" cy="244.80" r="1.6" fill="#d8261e"/>
<circle cx="128.20" cy="244.80" r="1.6" fill="#b01818"/>
<circle cx="135.00" cy="230.30" r="1.6" fill="#d8261e"/>
<circle cx="137.95" cy="230.30" r="1.6" fill="#b01818"/>
<circle cx="136.50" cy="232.00" r="1.55" fill="#efcaa8"/>
<circle cx="136.70" cy="235.10" r="1.95" fill="#d8261e"/>
<circle cx="134.60" cy="237.40" r="1.65" fill="#72c840"/>
<circle cx="132.60" cy="239.80" r="1.95" fill="#d8261e"/>
<circle cx="132.60" cy="243.10" r="1.55" fill="#efcaa8"/>
<circle cx="131.10" cy="244.80" r="1.6" fill="#d8261e"/>
<circle cx="134.05" cy="244.80" r="1.6" fill="#b01818"/>
<circle cx="140.85" cy="230.30" r="1.6" fill="#d8261e"/>
<circle cx="143.80" cy="230.30" r="1.6" fill="#b01818"/>
<circle cx="142.35" cy="232.00" r="1.55" fill="#efcaa8"/>
<circle cx="142.55" cy="235.10" r="1.95" fill="#d8261e"/>
<circle cx="140.45" cy="237.40" r="1.65" fill="#72c840"/>
<circle cx="138.45" cy="239.80" r="1.95" fill="#d8261e"/>
<circle cx="138.45" cy="243.10" r="1.55" fill="#efcaa8"/>
<circle cx="136.95" cy="244.80" r="1.6" fill="#d8261e"/>
<circle cx="139.90" cy="244.80" r="1.6" fill="#b01818"/>
<circle cx="146.70" cy="230.30" r="1.6" fill="#d8261e"/>
<circle cx="149.65" cy="230.30" r="1.6" fill="#b01818"/>
<circle cx="148.20" cy="232.00" r="1.55" fill="#efcaa8"/>
<circle cx="148.40" cy="235.10" r="1.95" fill="#d8261e"/>
<circle cx="146.30" cy="237.40" r="1.65" fill="#72c840"/>
<circle cx="144.30" cy="239.80" r="1.95" fill="#d8261e"/>
<circle cx="144.30" cy="243.10" r="1.55" fill="#efcaa8"/>
<circle cx="142.80" cy="244.80" r="1.6" fill="#d8261e"/>
<circle cx="145.75" cy="244.80" r="1.6" fill="#b01818"/>
<circle cx="152.55" cy="230.30" r="1.6" fill="#d8261e"/>
<circle cx="155.50" cy="230.30" r="1.6" fill="#b01818"/>
<circle cx="154.05" cy="232.00" r="1.55" fill="#efcaa8"/>
<circle cx="154.25" cy="235.10" r="1.95" fill="#d8261e"/>
<circle cx="152.15" cy="237.40" r="1.65" fill="#72c840"/>
<circle cx="150.15" cy="239.80" r="1.95" fill="#d8261e"/>
<circle cx="150.15" cy="243.10" r="1.55" fill="#efcaa8"/>
<circle cx="148.65" cy="244.80" r="1.6" fill="#d8261e"/>
<circle cx="151.60" cy="244.80" r="1.6" fill="#b01818"/>
<circle cx="158.40" cy="230.30" r="1.6" fill="#d8261e"/>
<circle cx="161.35" cy="230.30" r="1.6" fill="#b01818"/>
<circle cx="159.90" cy="232.00" r="1.55" fill="#efcaa8"/>
<circle cx="160.10" cy="235.10" r="1.95" fill="#d8261e"/>
<circle cx="158.00" cy="237.40" r="1.65" fill="#72c840"/>
<circle cx="156.00" cy="239.80" r="1.95" fill="#d8261e"/>
<circle cx="156.00" cy="243.10" r="1.55" fill="#efcaa8"/>
<circle cx="154.50" cy="244.80" r="1.6" fill="#d8261e"/>
<circle cx="157.45" cy="244.80" r="1.6" fill="#b01818"/>
<circle cx="164.25" cy="230.30" r="1.6" fill="#d8261e"/>
<circle cx="167.20" cy="230.30" r="1.6" fill="#b01818"/>
<circle cx="165.75" cy="232.00" r="1.55" fill="#efcaa8"/>
<circle cx="165.95" cy="235.10" r="1.95" fill="#d8261e"/>
<circle cx="163.85" cy="237.40" r="1.65" fill="#72c840"/>
<circle cx="161.85" cy="239.80" r="1.95" fill="#d8261e"/>
<circle cx="161.85" cy="243.10" r="1.55" fill="#efcaa8"/>
<circle cx="160.35" cy="244.80" r="1.6" fill="#d8261e"/>
<circle cx="163.30" cy="244.80" r="1.6" fill="#b01818"/>
<circle cx="170.10" cy="230.30" r="1.6" fill="#d8261e"/>
<circle cx="173.05" cy="230.30" r="1.6" fill="#b01818"/>
<circle cx="171.60" cy="232.00" r="1.55" fill="#efcaa8"/>
<circle cx="171.80" cy="235.10" r="1.95" fill="#d8261e"/>
<circle cx="169.70" cy="237.40" r="1.65" fill="#72c840"/>
<circle cx="167.70" cy="239.80" r="1.95" fill="#d8261e"/>
<circle cx="167.70" cy="243.10" r="1.55" fill="#efcaa8"/>
<circle cx="166.20" cy="244.80" r="1.6" fill="#d8261e"/>
<circle cx="169.15" cy="244.80" r="1.6" fill="#b01818"/>
<circle cx="175.95" cy="230.30" r="1.6" fill="#d8261e"/>
<circle cx="178.90" cy="230.30" r="1.6" fill="#b01818"/>
<circle cx="177.45" cy="232.00" r="1.55" fill="#efcaa8"/>
<circle cx="177.65" cy="235.10" r="1.95" fill="#d8261e"/>
<circle cx="175.55" cy="237.40" r="1.65" fill="#72c840"/>
<circle cx="173.55" cy="239.80" r="1.95" fill="#d8261e"/>
<circle cx="173.55" cy="243.10" r="1.55" fill="#efcaa8"/>
<circle cx="172.05" cy="244.80" r="1.6" fill="#d8261e"/>
<circle cx="175.00" cy="244.80" r="1.6" fill="#b01818"/>
<circle cx="181.80" cy="230.30" r="1.6" fill="#d8261e"/>
<circle cx="184.75" cy="230.30" r="1.6" fill="#b01818"/>
<circle cx="183.30" cy="232.00" r="1.55" fill="#efcaa8"/>
<circle cx="183.50" cy="235.10" r="1.95" fill="#d8261e"/>
<circle cx="181.40" cy="237.40" r="1.65" fill="#72c840"/>
<circle cx="179.40" cy="239.80" r="1.95" fill="#d8261e"/>
<circle cx="179.40" cy="243.10" r="1.55" fill="#efcaa8"/>
<circle cx="177.90" cy="244.80" r="1.6" fill="#d8261e"/>
<circle cx="180.85" cy="244.80" r="1.6" fill="#b01818"/>
<circle cx="187.65" cy="230.30" r="1.6" fill="#d8261e"/>
<circle cx="190.60" cy="230.30" r="1.6" fill="#b01818"/>
<circle cx="189.15" cy="232.00" r="1.55" fill="#efcaa8"/>
<circle cx="189.35" cy="235.10" r="1.95" fill="#d8261e"/>
<circle cx="187.25" cy="237.40" r="1.65" fill="#72c840"/>
<circle cx="185.25" cy="239.80" r="1.95" fill="#d8261e"/>
<circle cx="185.25" cy="243.10" r="1.55" fill="#efcaa8"/>
<circle cx="183.75" cy="244.80" r="1.6" fill="#d8261e"/>
<circle cx="186.70" cy="244.80" r="1.6" fill="#b01818"/>
<circle cx="193.50" cy="230.30" r="1.6" fill="#d8261e"/>
<circle cx="196.45" cy="230.30" r="1.6" fill="#b01818"/>
<circle cx="195.00" cy="232.00" r="1.55" fill="#efcaa8"/>
<circle cx="195.20" cy="235.10" r="1.95" fill="#d8261e"/>
<circle cx="193.10" cy="237.40" r="1.65" fill="#72c840"/>
<circle cx="191.10" cy="239.80" r="1.95" fill="#d8261e"/>
<circle cx="191.10" cy="243.10" r="1.55" fill="#efcaa8"/>
<circle cx="189.60" cy="244.80" r="1.6" fill="#d8261e"/>
<circle cx="192.55" cy="244.80" r="1.6" fill="#b01818"/>
<circle cx="199.35" cy="230.30" r="1.6" fill="#d8261e"/>
<circle cx="202.30" cy="230.30" r="1.6" fill="#b01818"/>
<circle cx="200.85" cy="232.00" r="1.55" fill="#efcaa8"/>
<circle cx="201.05" cy="235.10" r="1.95" fill="#d8261e"/>
<circle cx="198.95" cy="237.40" r="1.65" fill="#72c840"/>
<circle cx="196.95" cy="239.80" r="1.95" fill="#d8261e"/>
<circle cx="196.95" cy="243.10" r="1.55" fill="#efcaa8"/>
<circle cx="195.45" cy="244.80" r="1.6" fill="#d8261e"/>
<circle cx="198.40" cy="244.80" r="1.6" fill="#b01818"/>
<circle cx="205.20" cy="230.30" r="1.6" fill="#d8261e"/>
<circle cx="208.15" cy="230.30" r="1.6" fill="#b01818"/>
<circle cx="206.70" cy="232.00" r="1.55" fill="#efcaa8"/>
<circle cx="206.90" cy="235.10" r="1.95" fill="#d8261e"/>
<circle cx="204.80" cy="237.40" r="1.65" fill="#72c840"/>
<circle cx="202.80" cy="239.80" r="1.95" fill="#d8261e"/>
<circle cx="202.80" cy="243.10" r="1.55" fill="#efcaa8"/>
<circle cx="201.30" cy="244.80" r="1.6" fill="#d8261e"/>
<circle cx="204.25" cy="244.80" r="1.6" fill="#b01818"/>
<circle cx="211.05" cy="230.30" r="1.6" fill="#d8261e"/>
<circle cx="214.00" cy="230.30" r="1.6" fill="#b01818"/>
<circle cx="212.55" cy="232.00" r="1.55" fill="#efcaa8"/>
<circle cx="212.75" cy="235.10" r="1.95" fill="#d8261e"/>
<circle cx="210.65" cy="237.40" r="1.65" fill="#72c840"/>
<circle cx="208.65" cy="239.80" r="1.95" fill="#d8261e"/>
<circle cx="208.65" cy="243.10" r="1.55" fill="#efcaa8"/>
<circle cx="207.15" cy="244.80" r="1.6" fill="#d8261e"/>
<circle cx="210.10" cy="244.80" r="1.6" fill="#b01818"/>
<circle cx="216.90" cy="230.30" r="1.6" fill="#d8261e"/>
<circle cx="219.85" cy="230.30" r="1.6" fill="#b01818"/>
<circle cx="218.40" cy="232.00" r="1.55" fill="#efcaa8"/>
<circle cx="218.60" cy="235.10" r="1.95" fill="#d8261e"/>
<circle cx="216.50" cy="237.40" r="1.65" fill="#72c840"/>
<circle cx="214.50" cy="239.80" r="1.95" fill="#d8261e"/>
<circle cx="214.50" cy="243.10" r="1.55" fill="#efcaa8"/>
<circle cx="213.00" cy="244.80" r="1.6" fill="#d8261e"/>
<circle cx="215.95" cy="244.80" r="1.6" fill="#b01818"/>
<circle cx="82.35" cy="263.00" r="1.6" fill="#d8261e"/>
<circle cx="85.30" cy="263.00" r="1.6" fill="#b01818"/>
<circle cx="83.85" cy="264.70" r="1.55" fill="#efcaa8"/>
<circle cx="84.05" cy="267.80" r="1.95" fill="#d8261e"/>
<circle cx="81.95" cy="270.10" r="1.65" fill="#72c840"/>
<circle cx="79.95" cy="272.50" r="1.95" fill="#d8261e"/>
<circle cx="79.95" cy="275.80" r="1.55" fill="#efcaa8"/>
<circle cx="78.45" cy="277.50" r="1.6" fill="#d8261e"/>
<circle cx="81.40" cy="277.50" r="1.6" fill="#b01818"/>
<circle cx="88.20" cy="263.00" r="1.6" fill="#d8261e"/>
<circle cx="91.15" cy="263.00" r="1.6" fill="#b01818"/>
<circle cx="89.70" cy="264.70" r="1.55" fill="#efcaa8"/>
<circle cx="89.90" cy="267.80" r="1.95" fill="#d8261e"/>
<circle cx="87.80" cy="270.10" r="1.65" fill="#72c840"/>
<circle cx="85.80" cy="272.50" r="1.95" fill="#d8261e"/>
<circle cx="85.80" cy="275.80" r="1.55" fill="#efcaa8"/>
<circle cx="84.30" cy="277.50" r="1.6" fill="#d8261e"/>
<circle cx="87.25" cy="277.50" r="1.6" fill="#b01818"/>
<circle cx="94.05" cy="263.00" r="1.6" fill="#d8261e"/>
<circle cx="97.00" cy="263.00" r="1.6" fill="#b01818"/>
<circle cx="95.55" cy="264.70" r="1.55" fill="#efcaa8"/>
<circle cx="95.75" cy="267.80" r="1.95" fill="#d8261e"/>
<circle cx="93.65" cy="270.10" r="1.65" fill="#72c840"/>
<circle cx="91.65" cy="272.50" r="1.95" fill="#d8261e"/>
<circle cx="91.65" cy="275.80" r="1.55" fill="#efcaa8"/>
<circle cx="90.15" cy="277.50" r="1.6" fill="#d8261e"/>
<circle cx="93.10" cy="277.50" r="1.6" fill="#b01818"/>
<circle cx="99.90" cy="263.00" r="1.6" fill="#d8261e"/>
<circle cx="102.85" cy="263.00" r="1.6" fill="#b01818"/>
<circle cx="101.40" cy="264.70" r="1.55" fill="#efcaa8"/>
<circle cx="101.60" cy="267.80" r="1.95" fill="#d8261e"/>
<circle cx="99.50" cy="270.10" r="1.65" fill="#72c840"/>
<circle cx="97.50" cy="272.50" r="1.95" fill="#d8261e"/>
<circle cx="97.50" cy="275.80" r="1.55" fill="#efcaa8"/>
<circle cx="96.00" cy="277.50" r="1.6" fill="#d8261e"/>
<circle cx="98.95" cy="277.50" r="1.6" fill="#b01818"/>
<circle cx="105.75" cy="263.00" r="1.6" fill="#d8261e"/>
<circle cx="108.70" cy="263.00" r="1.6" fill="#b01818"/>
<circle cx="107.25" cy="264.70" r="1.55" fill="#efcaa8"/>
<circle cx="107.45" cy="267.80" r="1.95" fill="#d8261e"/>
<circle cx="105.35" cy="270.10" r="1.65" fill="#72c840"/>
<circle cx="103.35" cy="272.50" r="1.95" fill="#d8261e"/>
<circle cx="103.35" cy="275.80" r="1.55" fill="#efcaa8"/>
<circle cx="101.85" cy="277.50" r="1.6" fill="#d8261e"/>
<circle cx="104.80" cy="277.50" r="1.6" fill="#b01818"/>
<circle cx="111.60" cy="263.00" r="1.6" fill="#d8261e"/>
<circle cx="114.55" cy="263.00" r="1.6" fill="#b01818"/>
<circle cx="113.10" cy="264.70" r="1.55" fill="#efcaa8"/>
<circle cx="113.30" cy="267.80" r="1.95" fill="#d8261e"/>
<circle cx="111.20" cy="270.10" r="1.65" fill="#72c840"/>
<circle cx="109.20" cy="272.50" r="1.95" fill="#d8261e"/>
<circle cx="109.20" cy="275.80" r="1.55" fill="#efcaa8"/>
<circle cx="107.70" cy="277.50" r="1.6" fill="#d8261e"/>
<circle cx="110.65" cy="277.50" r="1.6" fill="#b01818"/>
<circle cx="117.45" cy="263.00" r="1.6" fill="#d8261e"/>
<circle cx="120.40" cy="263.00" r="1.6" fill="#b01818"/>
<circle cx="118.95" cy="264.70" r="1.55" fill="#efcaa8"/>
<circle cx="119.15" cy="267.80" r="1.95" fill="#d8261e"/>
<circle cx="117.05" cy="270.10" r="1.65" fill="#72c840"/>
<circle cx="115.05" cy="272.50" r="1.95" fill="#d8261e"/>
<circle cx="115.05" cy="275.80" r="1.55" fill="#efcaa8"/>
<circle cx="113.55" cy="277.50" r="1.6" fill="#d8261e"/>
<circle cx="116.50" cy="277.50" r="1.6" fill="#b01818"/>
<circle cx="123.30" cy="263.00" r="1.6" fill="#d8261e"/>
<circle cx="126.25" cy="263.00" r="1.6" fill="#b01818"/>
<circle cx="124.80" cy="264.70" r="1.55" fill="#efcaa8"/>
<circle cx="125.00" cy="267.80" r="1.95" fill="#d8261e"/>
<circle cx="122.90" cy="270.10" r="1.65" fill="#72c840"/>
<circle cx="120.90" cy="272.50" r="1.95" fill="#d8261e"/>
<circle cx="120.90" cy="275.80" r="1.55" fill="#efcaa8"/>
<circle cx="119.40" cy="277.50" r="1.6" fill="#d8261e"/>
<circle cx="122.35" cy="277.50" r="1.6" fill="#b01818"/>
<circle cx="129.15" cy="263.00" r="1.6" fill="#d8261e"/>
<circle cx="132.10" cy="263.00" r="1.6" fill="#b01818"/>
<circle cx="130.65" cy="264.70" r="1.55" fill="#efcaa8"/>
<circle cx="130.85" cy="267.80" r="1.95" fill="#d8261e"/>
<circle cx="128.75" cy="270.10" r="1.65" fill="#72c840"/>
<circle cx="126.75" cy="272.50" r="1.95" fill="#d8261e"/>
<circle cx="126.75" cy="275.80" r="1.55" fill="#efcaa8"/>
<circle cx="125.25" cy="277.50" r="1.6" fill="#d8261e"/>
<circle cx="128.20" cy="277.50" r="1.6" fill="#b01818"/>
<circle cx="135.00" cy="263.00" r="1.6" fill="#d8261e"/>
<circle cx="137.95" cy="263.00" r="1.6" fill="#b01818"/>
<circle cx="136.50" cy="264.70" r="1.55" fill="#efcaa8"/>
<circle cx="136.70" cy="267.80" r="1.95" fill="#d8261e"/>
<circle cx="134.60" cy="270.10" r="1.65" fill="#72c840"/>
<circle cx="132.60" cy="272.50" r="1.95" fill="#d8261e"/>
<circle cx="132.60" cy="275.80" r="1.55" fill="#efcaa8"/>
<circle cx="131.10" cy="277.50" r="1.6" fill="#d8261e"/>
<circle cx="134.05" cy="277.50" r="1.6" fill="#b01818"/>
<circle cx="140.85" cy="263.00" r="1.6" fill="#d8261e"/>
<circle cx="143.80" cy="263.00" r="1.6" fill="#b01818"/>
<circle cx="142.35" cy="264.70" r="1.55" fill="#efcaa8"/>
<circle cx="142.55" cy="267.80" r="1.95" fill="#d8261e"/>
<circle cx="140.45" cy="270.10" r="1.65" fill="#72c840"/>
<circle cx="138.45" cy="272.50" r="1.95" fill="#d8261e"/>
<circle cx="138.45" cy="275.80" r="1.55" fill="#efcaa8"/>
<circle cx="136.95" cy="277.50" r="1.6" fill="#d8261e"/>
<circle cx="139.90" cy="277.50" r="1.6" fill="#b01818"/>
<circle cx="146.70" cy="263.00" r="1.6" fill="#d8261e"/>
<circle cx="149.65" cy="263.00" r="1.6" fill="#b01818"/>
<circle cx="148.20" cy="264.70" r="1.55" fill="#efcaa8"/>
<circle cx="148.40" cy="267.80" r="1.95" fill="#d8261e"/>
<circle cx="146.30" cy="270.10" r="1.65" fill="#72c840"/>
<circle cx="144.30" cy="272.50" r="1.95" fill="#d8261e"/>
<circle cx="144.30" cy="275.80" r="1.55" fill="#efcaa8"/>
<circle cx="142.80" cy="277.50" r="1.6" fill="#d8261e"/>
<circle cx="145.75" cy="277.50" r="1.6" fill="#b01818"/>
<circle cx="152.55" cy="263.00" r="1.6" fill="#d8261e"/>
<circle cx="155.50" cy="263.00" r="1.6" fill="#b01818"/>
<circle cx="154.05" cy="264.70" r="1.55" fill="#efcaa8"/>
<circle cx="154.25" cy="267.80" r="1.95" fill="#d8261e"/>
<circle cx="152.15" cy="270.10" r="1.65" fill="#72c840"/>
<circle cx="150.15" cy="272.50" r="1.95" fill="#d8261e"/>
<circle cx="150.15" cy="275.80" r="1.55" fill="#efcaa8"/>
<circle cx="148.65" cy="277.50" r="1.6" fill="#d8261e"/>
<circle cx="151.60" cy="277.50" r="1.6" fill="#b01818"/>
<circle cx="158.40" cy="263.00" r="1.6" fill="#d8261e"/>
<circle cx="161.35" cy="263.00" r="1.6" fill="#b01818"/>
<circle cx="159.90" cy="264.70" r="1.55" fill="#efcaa8"/>
<circle cx="160.10" cy="267.80" r="1.95" fill="#d8261e"/>
<circle cx="158.00" cy="270.10" r="1.65" fill="#72c840"/>
<circle cx="156.00" cy="272.50" r="1.95" fill="#d8261e"/>
<circle cx="156.00" cy="275.80" r="1.55" fill="#efcaa8"/>
<circle cx="154.50" cy="277.50" r="1.6" fill="#d8261e"/>
<circle cx="157.45" cy="277.50" r="1.6" fill="#b01818"/>
<circle cx="164.25" cy="263.00" r="1.6" fill="#d8261e"/>
<circle cx="167.20" cy="263.00" r="1.6" fill="#b01818"/>
<circle cx="165.75" cy="264.70" r="1.55" fill="#efcaa8"/>
<circle cx="165.95" cy="267.80" r="1.95" fill="#d8261e"/>
<circle cx="163.85" cy="270.10" r="1.65" fill="#72c840"/>
<circle cx="161.85" cy="272.50" r="1.95" fill="#d8261e"/>
<circle cx="161.85" cy="275.80" r="1.55" fill="#efcaa8"/>
<circle cx="160.35" cy="277.50" r="1.6" fill="#d8261e"/>
<circle cx="163.30" cy="277.50" r="1.6" fill="#b01818"/>
<circle cx="170.10" cy="263.00" r="1.6" fill="#d8261e"/>
<circle cx="173.05" cy="263.00" r="1.6" fill="#b01818"/>
<circle cx="171.60" cy="264.70" r="1.55" fill="#efcaa8"/>
<circle cx="171.80" cy="267.80" r="1.95" fill="#d8261e"/>
<circle cx="169.70" cy="270.10" r="1.65" fill="#72c840"/>
<circle cx="167.70" cy="272.50" r="1.95" fill="#d8261e"/>
<circle cx="167.70" cy="275.80" r="1.55" fill="#efcaa8"/>
<circle cx="166.20" cy="277.50" r="1.6" fill="#d8261e"/>
<circle cx="169.15" cy="277.50" r="1.6" fill="#b01818"/>
<circle cx="175.95" cy="263.00" r="1.6" fill="#d8261e"/>
<circle cx="178.90" cy="263.00" r="1.6" fill="#b01818"/>
<circle cx="177.45" cy="264.70" r="1.55" fill="#efcaa8"/>
<circle cx="177.65" cy="267.80" r="1.95" fill="#d8261e"/>
<circle cx="175.55" cy="270.10" r="1.65" fill="#72c840"/>
<circle cx="173.55" cy="272.50" r="1.95" fill="#d8261e"/>
<circle cx="173.55" cy="275.80" r="1.55" fill="#efcaa8"/>
<circle cx="172.05" cy="277.50" r="1.6" fill="#d8261e"/>
<circle cx="175.00" cy="277.50" r="1.6" fill="#b01818"/>
<circle cx="181.80" cy="263.00" r="1.6" fill="#d8261e"/>
<circle cx="184.75" cy="263.00" r="1.6" fill="#b01818"/>
<circle cx="183.30" cy="264.70" r="1.55" fill="#efcaa8"/>
<circle cx="183.50" cy="267.80" r="1.95" fill="#d8261e"/>
<circle cx="181.40" cy="270.10" r="1.65" fill="#72c840"/>
<circle cx="179.40" cy="272.50" r="1.95" fill="#d8261e"/>
<circle cx="179.40" cy="275.80" r="1.55" fill="#efcaa8"/>
<circle cx="177.90" cy="277.50" r="1.6" fill="#d8261e"/>
<circle cx="180.85" cy="277.50" r="1.6" fill="#b01818"/>
<circle cx="187.65" cy="263.00" r="1.6" fill="#d8261e"/>
<circle cx="190.60" cy="263.00" r="1.6" fill="#b01818"/>
<circle cx="189.15" cy="264.70" r="1.55" fill="#efcaa8"/>
<circle cx="189.35" cy="267.80" r="1.95" fill="#d8261e"/>
<circle cx="187.25" cy="270.10" r="1.65" fill="#72c840"/>
<circle cx="185.25" cy="272.50" r="1.95" fill="#d8261e"/>
<circle cx="185.25" cy="275.80" r="1.55" fill="#efcaa8"/>
<circle cx="183.75" cy="277.50" r="1.6" fill="#d8261e"/>
<circle cx="186.70" cy="277.50" r="1.6" fill="#b01818"/>
<circle cx="193.50" cy="263.00" r="1.6" fill="#d8261e"/>
<circle cx="196.45" cy="263.00" r="1.6" fill="#b01818"/>
<circle cx="195.00" cy="264.70" r="1.55" fill="#efcaa8"/>
<circle cx="195.20" cy="267.80" r="1.95" fill="#d8261e"/>
<circle cx="193.10" cy="270.10" r="1.65" fill="#72c840"/>
<circle cx="191.10" cy="272.50" r="1.95" fill="#d8261e"/>
<circle cx="191.10" cy="275.80" r="1.55" fill="#efcaa8"/>
<circle cx="189.60" cy="277.50" r="1.6" fill="#d8261e"/>
<circle cx="192.55" cy="277.50" r="1.6" fill="#b01818"/>
<circle cx="199.35" cy="263.00" r="1.6" fill="#d8261e"/>
<circle cx="202.30" cy="263.00" r="1.6" fill="#b01818"/>
<circle cx="200.85" cy="264.70" r="1.55" fill="#efcaa8"/>
<circle cx="201.05" cy="267.80" r="1.95" fill="#d8261e"/>
<circle cx="198.95" cy="270.10" r="1.65" fill="#72c840"/>
<circle cx="196.95" cy="272.50" r="1.95" fill="#d8261e"/>
<circle cx="196.95" cy="275.80" r="1.55" fill="#efcaa8"/>
<circle cx="195.45" cy="277.50" r="1.6" fill="#d8261e"/>
<circle cx="198.40" cy="277.50" r="1.6" fill="#b01818"/>
<circle cx="205.20" cy="263.00" r="1.6" fill="#d8261e"/>
<circle cx="208.15" cy="263.00" r="1.6" fill="#b01818"/>
<circle cx="206.70" cy="264.70" r="1.55" fill="#efcaa8"/>
<circle cx="206.90" cy="267.80" r="1.95" fill="#d8261e"/>
<circle cx="204.80" cy="270.10" r="1.65" fill="#72c840"/>
<circle cx="202.80" cy="272.50" r="1.95" fill="#d8261e"/>
<circle cx="202.80" cy="275.80" r="1.55" fill="#efcaa8"/>
<circle cx="201.30" cy="277.50" r="1.6" fill="#d8261e"/>
<circle cx="204.25" cy="277.50" r="1.6" fill="#b01818"/>
<circle cx="211.05" cy="263.00" r="1.6" fill="#d8261e"/>
<circle cx="214.00" cy="263.00" r="1.6" fill="#b01818"/>
<circle cx="212.55" cy="264.70" r="1.55" fill="#efcaa8"/>
<circle cx="212.75" cy="267.80" r="1.95" fill="#d8261e"/>
<circle cx="210.65" cy="270.10" r="1.65" fill="#72c840"/>
<circle cx="208.65" cy="272.50" r="1.95" fill="#d8261e"/>
<circle cx="208.65" cy="275.80" r="1.55" fill="#efcaa8"/>
<circle cx="207.15" cy="277.50" r="1.6" fill="#d8261e"/>
<circle cx="210.10" cy="277.50" r="1.6" fill="#b01818"/>
<circle cx="216.90" cy="263.00" r="1.6" fill="#d8261e"/>
<circle cx="219.85" cy="263.00" r="1.6" fill="#b01818"/>
<circle cx="218.40" cy="264.70" r="1.55" fill="#efcaa8"/>
<circle cx="218.60" cy="267.80" r="1.95" fill="#d8261e"/>
<circle cx="216.50" cy="270.10" r="1.65" fill="#72c840"/>
<circle cx="214.50" cy="272.50" r="1.95" fill="#d8261e"/>
<circle cx="214.50" cy="275.80" r="1.55" fill="#efcaa8"/>
<circle cx="213.00" cy="277.50" r="1.6" fill="#d8261e"/>
<circle cx="215.95" cy="277.50" r="1.6" fill="#b01818"/>
<circle cx="82.35" cy="296.00" r="1.6" fill="#d8261e"/>
<circle cx="85.30" cy="296.00" r="1.6" fill="#b01818"/>
<circle cx="83.85" cy="297.70" r="1.55" fill="#efcaa8"/>
<circle cx="84.05" cy="300.80" r="1.95" fill="#d8261e"/>
<circle cx="81.95" cy="303.10" r="1.65" fill="#72c840"/>
<circle cx="79.95" cy="305.50" r="1.95" fill="#d8261e"/>
<circle cx="79.95" cy="308.80" r="1.55" fill="#efcaa8"/>
<circle cx="78.45" cy="310.50" r="1.6" fill="#d8261e"/>
<circle cx="81.40" cy="310.50" r="1.6" fill="#b01818"/>
<circle cx="88.20" cy="296.00" r="1.6" fill="#d8261e"/>
<circle cx="91.15" cy="296.00" r="1.6" fill="#b01818"/>
<circle cx="89.70" cy="297.70" r="1.55" fill="#efcaa8"/>
<circle cx="89.90" cy="300.80" r="1.95" fill="#d8261e"/>
<circle cx="87.80" cy="303.10" r="1.65" fill="#72c840"/>
<circle cx="85.80" cy="305.50" r="1.95" fill="#d8261e"/>
<circle cx="85.80" cy="308.80" r="1.55" fill="#efcaa8"/>
<circle cx="84.30" cy="310.50" r="1.6" fill="#d8261e"/>
<circle cx="87.25" cy="310.50" r="1.6" fill="#b01818"/>
<circle cx="94.05" cy="296.00" r="1.6" fill="#d8261e"/>
<circle cx="97.00" cy="296.00" r="1.6" fill="#b01818"/>
<circle cx="95.55" cy="297.70" r="1.55" fill="#efcaa8"/>
<circle cx="95.75" cy="300.80" r="1.95" fill="#d8261e"/>
<circle cx="93.65" cy="303.10" r="1.65" fill="#72c840"/>
<circle cx="91.65" cy="305.50" r="1.95" fill="#d8261e"/>
<circle cx="91.65" cy="308.80" r="1.55" fill="#efcaa8"/>
<circle cx="90.15" cy="310.50" r="1.6" fill="#d8261e"/>
<circle cx="93.10" cy="310.50" r="1.6" fill="#b01818"/>
<circle cx="99.90" cy="296.00" r="1.6" fill="#d8261e"/>
<circle cx="102.85" cy="296.00" r="1.6" fill="#b01818"/>
<circle cx="101.40" cy="297.70" r="1.55" fill="#efcaa8"/>
<circle cx="101.60" cy="300.80" r="1.95" fill="#d8261e"/>
<circle cx="99.50" cy="303.10" r="1.65" fill="#72c840"/>
<circle cx="97.50" cy="305.50" r="1.95" fill="#d8261e"/>
<circle cx="97.50" cy="308.80" r="1.55" fill="#efcaa8"/>
<circle cx="96.00" cy="310.50" r="1.6" fill="#d8261e"/>
<circle cx="98.95" cy="310.50" r="1.6" fill="#b01818"/>
<circle cx="105.75" cy="296.00" r="1.6" fill="#d8261e"/>
<circle cx="108.70" cy="296.00" r="1.6" fill="#b01818"/>
<circle cx="107.25" cy="297.70" r="1.55" fill="#efcaa8"/>
<circle cx="107.45" cy="300.80" r="1.95" fill="#d8261e"/>
<circle cx="105.35" cy="303.10" r="1.65" fill="#72c840"/>
<circle cx="103.35" cy="305.50" r="1.95" fill="#d8261e"/>
<circle cx="103.35" cy="308.80" r="1.55" fill="#efcaa8"/>
<circle cx="101.85" cy="310.50" r="1.6" fill="#d8261e"/>
<circle cx="104.80" cy="310.50" r="1.6" fill="#b01818"/>
<circle cx="111.60" cy="296.00" r="1.6" fill="#d8261e"/>
<circle cx="114.55" cy="296.00" r="1.6" fill="#b01818"/>
<circle cx="113.10" cy="297.70" r="1.55" fill="#efcaa8"/>
<circle cx="113.30" cy="300.80" r="1.95" fill="#d8261e"/>
<circle cx="111.20" cy="303.10" r="1.65" fill="#72c840"/>
<circle cx="109.20" cy="305.50" r="1.95" fill="#d8261e"/>
<circle cx="109.20" cy="308.80" r="1.55" fill="#efcaa8"/>
<circle cx="107.70" cy="310.50" r="1.6" fill="#d8261e"/>
<circle cx="110.65" cy="310.50" r="1.6" fill="#b01818"/>
<circle cx="117.45" cy="296.00" r="1.6" fill="#d8261e"/>
<circle cx="120.40" cy="296.00" r="1.6" fill="#b01818"/>
<circle cx="118.95" cy="297.70" r="1.55" fill="#efcaa8"/>
<circle cx="119.15" cy="300.80" r="1.95" fill="#d8261e"/>
<circle cx="117.05" cy="303.10" r="1.65" fill="#72c840"/>
<circle cx="115.05" cy="305.50" r="1.95" fill="#d8261e"/>
<circle cx="115.05" cy="308.80" r="1.55" fill="#efcaa8"/>
<circle cx="113.55" cy="310.50" r="1.6" fill="#d8261e"/>
<circle cx="116.50" cy="310.50" r="1.6" fill="#b01818"/>
<circle cx="123.30" cy="296.00" r="1.6" fill="#d8261e"/>
<circle cx="126.25" cy="296.00" r="1.6" fill="#b01818"/>
<circle cx="124.80" cy="297.70" r="1.55" fill="#efcaa8"/>
<circle cx="125.00" cy="300.80" r="1.95" fill="#d8261e"/>
<circle cx="122.90" cy="303.10" r="1.65" fill="#72c840"/>
<circle cx="120.90" cy="305.50" r="1.95" fill="#d8261e"/>
<circle cx="120.90" cy="308.80" r="1.55" fill="#efcaa8"/>
<circle cx="119.40" cy="310.50" r="1.6" fill="#d8261e"/>
<circle cx="122.35" cy="310.50" r="1.6" fill="#b01818"/>
<circle cx="129.15" cy="296.00" r="1.6" fill="#d8261e"/>
<circle cx="132.10" cy="296.00" r="1.6" fill="#b01818"/>
<circle cx="130.65" cy="297.70" r="1.55" fill="#efcaa8"/>
<circle cx="130.85" cy="300.80" r="1.95" fill="#d8261e"/>
<circle cx="128.75" cy="303.10" r="1.65" fill="#72c840"/>
<circle cx="126.75" cy="305.50" r="1.95" fill="#d8261e"/>
<circle cx="126.75" cy="308.80" r="1.55" fill="#efcaa8"/>
<circle cx="125.25" cy="310.50" r="1.6" fill="#d8261e"/>
<circle cx="128.20" cy="310.50" r="1.6" fill="#b01818"/>
<circle cx="135.00" cy="296.00" r="1.6" fill="#d8261e"/>
<circle cx="137.95" cy="296.00" r="1.6" fill="#b01818"/>
<circle cx="136.50" cy="297.70" r="1.55" fill="#efcaa8"/>
<circle cx="136.70" cy="300.80" r="1.95" fill="#d8261e"/>
<circle cx="134.60" cy="303.10" r="1.65" fill="#72c840"/>
<circle cx="132.60" cy="305.50" r="1.95" fill="#d8261e"/>
<circle cx="132.60" cy="308.80" r="1.55" fill="#efcaa8"/>
<circle cx="131.10" cy="310.50" r="1.6" fill="#d8261e"/>
<circle cx="134.05" cy="310.50" r="1.6" fill="#b01818"/>
<circle cx="140.85" cy="296.00" r="1.6" fill="#d8261e"/>
<circle cx="143.80" cy="296.00" r="1.6" fill="#b01818"/>
<circle cx="142.35" cy="297.70" r="1.55" fill="#efcaa8"/>
<circle cx="142.55" cy="300.80" r="1.95" fill="#d8261e"/>
<circle cx="140.45" cy="303.10" r="1.65" fill="#72c840"/>
<circle cx="138.45" cy="305.50" r="1.95" fill="#d8261e"/>
<circle cx="138.45" cy="308.80" r="1.55" fill="#efcaa8"/>
<circle cx="136.95" cy="310.50" r="1.6" fill="#d8261e"/>
<circle cx="139.90" cy="310.50" r="1.6" fill="#b01818"/>
<circle cx="146.70" cy="296.00" r="1.6" fill="#d8261e"/>
<circle cx="149.65" cy="296.00" r="1.6" fill="#b01818"/>
<circle cx="148.20" cy="297.70" r="1.55" fill="#efcaa8"/>
<circle cx="148.40" cy="300.80" r="1.95" fill="#d8261e"/>
<circle cx="146.30" cy="303.10" r="1.65" fill="#72c840"/>
<circle cx="144.30" cy="305.50" r="1.95" fill="#d8261e"/>
<circle cx="144.30" cy="308.80" r="1.55" fill="#efcaa8"/>
<circle cx="142.80" cy="310.50" r="1.6" fill="#d8261e"/>
<circle cx="145.75" cy="310.50" r="1.6" fill="#b01818"/>
<circle cx="152.55" cy="296.00" r="1.6" fill="#d8261e"/>
<circle cx="155.50" cy="296.00" r="1.6" fill="#b01818"/>
<circle cx="154.05" cy="297.70" r="1.55" fill="#efcaa8"/>
<circle cx="154.25" cy="300.80" r="1.95" fill="#d8261e"/>
<circle cx="152.15" cy="303.10" r="1.65" fill="#72c840"/>
<circle cx="150.15" cy="305.50" r="1.95" fill="#d8261e"/>
<circle cx="150.15" cy="308.80" r="1.55" fill="#efcaa8"/>
<circle cx="148.65" cy="310.50" r="1.6" fill="#d8261e"/>
<circle cx="151.60" cy="310.50" r="1.6" fill="#b01818"/>
<circle cx="158.40" cy="296.00" r="1.6" fill="#d8261e"/>
<circle cx="161.35" cy="296.00" r="1.6" fill="#b01818"/>
<circle cx="159.90" cy="297.70" r="1.55" fill="#efcaa8"/>
<circle cx="160.10" cy="300.80" r="1.95" fill="#d8261e"/>
<circle cx="158.00" cy="303.10" r="1.65" fill="#72c840"/>
<circle cx="156.00" cy="305.50" r="1.95" fill="#d8261e"/>
<circle cx="156.00" cy="308.80" r="1.55" fill="#efcaa8"/>
<circle cx="154.50" cy="310.50" r="1.6" fill="#d8261e"/>
<circle cx="157.45" cy="310.50" r="1.6" fill="#b01818"/>
<circle cx="164.25" cy="296.00" r="1.6" fill="#d8261e"/>
<circle cx="167.20" cy="296.00" r="1.6" fill="#b01818"/>
<circle cx="165.75" cy="297.70" r="1.55" fill="#efcaa8"/>
<circle cx="165.95" cy="300.80" r="1.95" fill="#d8261e"/>
<circle cx="163.85" cy="303.10" r="1.65" fill="#72c840"/>
<circle cx="161.85" cy="305.50" r="1.95" fill="#d8261e"/>
<circle cx="161.85" cy="308.80" r="1.55" fill="#efcaa8"/>
<circle cx="160.35" cy="310.50" r="1.6" fill="#d8261e"/>
<circle cx="163.30" cy="310.50" r="1.6" fill="#b01818"/>
<circle cx="170.10" cy="296.00" r="1.6" fill="#d8261e"/>
<circle cx="173.05" cy="296.00" r="1.6" fill="#b01818"/>
<circle cx="171.60" cy="297.70" r="1.55" fill="#efcaa8"/>
<circle cx="171.80" cy="300.80" r="1.95" fill="#d8261e"/>
<circle cx="169.70" cy="303.10" r="1.65" fill="#72c840"/>
<circle cx="167.70" cy="305.50" r="1.95" fill="#d8261e"/>
<circle cx="167.70" cy="308.80" r="1.55" fill="#efcaa8"/>
<circle cx="166.20" cy="310.50" r="1.6" fill="#d8261e"/>
<circle cx="169.15" cy="310.50" r="1.6" fill="#b01818"/>
<circle cx="175.95" cy="296.00" r="1.6" fill="#d8261e"/>
<circle cx="178.90" cy="296.00" r="1.6" fill="#b01818"/>
<circle cx="177.45" cy="297.70" r="1.55" fill="#efcaa8"/>
<circle cx="177.65" cy="300.80" r="1.95" fill="#d8261e"/>
<circle cx="175.55" cy="303.10" r="1.65" fill="#72c840"/>
<circle cx="173.55" cy="305.50" r="1.95" fill="#d8261e"/>
<circle cx="173.55" cy="308.80" r="1.55" fill="#efcaa8"/>
<circle cx="172.05" cy="310.50" r="1.6" fill="#d8261e"/>
<circle cx="175.00" cy="310.50" r="1.6" fill="#b01818"/>
<circle cx="181.80" cy="296.00" r="1.6" fill="#d8261e"/>
<circle cx="184.75" cy="296.00" r="1.6" fill="#b01818"/>
<circle cx="183.30" cy="297.70" r="1.55" fill="#efcaa8"/>
<circle cx="183.50" cy="300.80" r="1.95" fill="#d8261e"/>
<circle cx="181.40" cy="303.10" r="1.65" fill="#72c840"/>
<circle cx="179.40" cy="305.50" r="1.95" fill="#d8261e"/>
<circle cx="179.40" cy="308.80" r="1.55" fill="#efcaa8"/>
<circle cx="177.90" cy="310.50" r="1.6" fill="#d8261e"/>
<circle cx="180.85" cy="310.50" r="1.6" fill="#b01818"/>
<circle cx="187.65" cy="296.00" r="1.6" fill="#d8261e"/>
<circle cx="190.60" cy="296.00" r="1.6" fill="#b01818"/>
<circle cx="189.15" cy="297.70" r="1.55" fill="#efcaa8"/>
<circle cx="189.35" cy="300.80" r="1.95" fill="#d8261e"/>
<circle cx="187.25" cy="303.10" r="1.65" fill="#72c840"/>
<circle cx="185.25" cy="305.50" r="1.95" fill="#d8261e"/>
<circle cx="185.25" cy="308.80" r="1.55" fill="#efcaa8"/>
<circle cx="183.75" cy="310.50" r="1.6" fill="#d8261e"/>
<circle cx="186.70" cy="310.50" r="1.6" fill="#b01818"/>
<circle cx="193.50" cy="296.00" r="1.6" fill="#d8261e"/>
<circle cx="196.45" cy="296.00" r="1.6" fill="#b01818"/>
<circle cx="195.00" cy="297.70" r="1.55" fill="#efcaa8"/>
<circle cx="195.20" cy="300.80" r="1.95" fill="#d8261e"/>
<circle cx="193.10" cy="303.10" r="1.65" fill="#72c840"/>
<circle cx="191.10" cy="305.50" r="1.95" fill="#d8261e"/>
<circle cx="191.10" cy="308.80" r="1.55" fill="#efcaa8"/>
<circle cx="189.60" cy="310.50" r="1.6" fill="#d8261e"/>
<circle cx="192.55" cy="310.50" r="1.6" fill="#b01818"/>
<circle cx="199.35" cy="296.00" r="1.6" fill="#d8261e"/>
<circle cx="202.30" cy="296.00" r="1.6" fill="#b01818"/>
<circle cx="200.85" cy="297.70" r="1.55" fill="#efcaa8"/>
<circle cx="201.05" cy="300.80" r="1.95" fill="#d8261e"/>
<circle cx="198.95" cy="303.10" r="1.65" fill="#72c840"/>
<circle cx="196.95" cy="305.50" r="1.95" fill="#d8261e"/>
<circle cx="196.95" cy="308.80" r="1.55" fill="#efcaa8"/>
<circle cx="195.45" cy="310.50" r="1.6" fill="#d8261e"/>
<circle cx="198.40" cy="310.50" r="1.6" fill="#b01818"/>
<circle cx="205.20" cy="296.00" r="1.6" fill="#d8261e"/>
<circle cx="208.15" cy="296.00" r="1.6" fill="#b01818"/>
<circle cx="206.70" cy="297.70" r="1.55" fill="#efcaa8"/>
<circle cx="206.90" cy="300.80" r="1.95" fill="#d8261e"/>
<circle cx="204.80" cy="303.10" r="1.65" fill="#72c840"/>
<circle cx="202.80" cy="305.50" r="1.95" fill="#d8261e"/>
<circle cx="202.80" cy="308.80" r="1.55" fill="#efcaa8"/>
<circle cx="201.30" cy="310.50" r="1.6" fill="#d8261e"/>
<circle cx="204.25" cy="310.50" r="1.6" fill="#b01818"/>
<circle cx="211.05" cy="296.00" r="1.6" fill="#d8261e"/>
<circle cx="214.00" cy="296.00" r="1.6" fill="#b01818"/>
<circle cx="212.55" cy="297.70" r="1.55" fill="#efcaa8"/>
<circle cx="212.75" cy="300.80" r="1.95" fill="#d8261e"/>
<circle cx="210.65" cy="303.10" r="1.65" fill="#72c840"/>
<circle cx="208.65" cy="305.50" r="1.95" fill="#d8261e"/>
<circle cx="208.65" cy="308.80" r="1.55" fill="#efcaa8"/>
<circle cx="207.15" cy="310.50" r="1.6" fill="#d8261e"/>
<circle cx="210.10" cy="310.50" r="1.6" fill="#b01818"/>
<circle cx="216.90" cy="296.00" r="1.6" fill="#d8261e"/>
<circle cx="219.85" cy="296.00" r="1.6" fill="#b01818"/>
<circle cx="218.40" cy="297.70" r="1.55" fill="#efcaa8"/>
<circle cx="218.60" cy="300.80" r="1.95" fill="#d8261e"/>
<circle cx="216.50" cy="303.10" r="1.65" fill="#72c840"/>
<circle cx="214.50" cy="305.50" r="1.95" fill="#d8261e"/>
<circle cx="214.50" cy="308.80" r="1.55" fill="#efcaa8"/>
<circle cx="213.00" cy="310.50" r="1.6" fill="#d8261e"/>
<circle cx="215.95" cy="310.50" r="1.6" fill="#b01818"/>
</g>
<circle cx="102.19" cy="251.25" r="1.8" fill="#3b2172"/>
<circle cx="101.04" cy="257.00" r="1.8" fill="#3b2172"/>
<circle cx="106.29" cy="257.00" r="1.8" fill="#5b3fa8"/>
<circle cx="113.69" cy="254.37" r="1.8" fill="#3b2172"/>
<circle cx="121.91" cy="253.22" r="1.8" fill="#5b3fa8"/>
<circle cx="133.41" cy="256.84" r="1.8" fill="#3b2172"/>
<circle cx="138.01" cy="255.36" r="1.8" fill="#3b2172"/>
<circle cx="142.94" cy="251.09" r="1.8" fill="#5b3fa8"/>
<circle cx="143.27" cy="257.00" r="1.8" fill="#3b2172"/>
<circle cx="160.03" cy="252.07" r="1.8" fill="#3b2172"/>
<circle cx="163.81" cy="253.22" r="1.8" fill="#3b2172"/>
<circle cx="170.88" cy="252.07" r="1.8" fill="#3b2172"/>
<circle cx="176.96" cy="254.54" r="1.8" fill="#3b2172"/>
<circle cx="178.27" cy="257.00" r="1.8" fill="#5b3fa8"/>
<circle cx="189.78" cy="257.33" r="1.8" fill="#3b2172"/>
<circle cx="197.17" cy="253.72" r="1.8" fill="#3b2172"/>
<circle cx="199.15" cy="258.98" r="1.8" fill="#5b3fa8"/>
<circle cx="202.43" cy="249.12" r="1.8" fill="#5b3fa8"/>
<circle cx="94.79" cy="284.12" r="1.8" fill="#5b3fa8"/>
<circle cx="96.93" cy="289.71" r="1.8" fill="#3b2172"/>
<circle cx="102.51" cy="289.71" r="1.8" fill="#5b3fa8"/>
<circle cx="107.61" cy="283.63" r="1.8" fill="#3b2172"/>
<circle cx="115.00" cy="284.12" r="1.8" fill="#5b3fa8"/>
<circle cx="125.19" cy="285.76" r="1.8" fill="#3b2172"/>
<circle cx="127.66" cy="290.20" r="1.8" fill="#3b2172"/>
<circle cx="139.65" cy="283.96" r="1.8" fill="#3b2172"/>
<circle cx="149.02" cy="287.74" r="1.8" fill="#3b2172"/>
<circle cx="147.87" cy="290.53" r="1.8" fill="#5b3fa8"/>
<circle cx="164.63" cy="288.06" r="1.8" fill="#3b2172"/>
<circle cx="166.28" cy="289.71" r="1.8" fill="#5b3fa8"/>
<circle cx="175.81" cy="284.12" r="1.8" fill="#5b3fa8"/>
<circle cx="178.27" cy="290.69" r="1.8" fill="#3b2172"/>
<circle cx="181.56" cy="290.20" r="1.8" fill="#5b3fa8"/>
<circle cx="193.06" cy="284.12" r="1.8" fill="#3b2172"/>
<circle cx="197.50" cy="284.12" r="1.8" fill="#3b2172"/>
<circle cx="200.46" cy="291.02" r="1.8" fill="#3b2172"/>
<clipPath id="cr"><rect x="0" y="228.6" width="300" height="82.3"/></clipPath>
<g clip-path="url(#cr)">
<line x1="11.01" y1="238.44" x2="7.34" y2="236.68" stroke="#a0a0a0" stroke-width="0.5"/>
<line x1="22.02" y1="237.42" x2="24.23" y2="234.48" stroke="#a0a0a0" stroke-width="0.5"/>
<line x1="22.02" y1="237.42" x2="27.16" y2="236.68" stroke="#a0a0a0" stroke-width="0.5"/>
<line x1="27.16" y1="236.68" x2="24.23" y2="234.48" stroke="#a0a0a0" stroke-width="0.5"/>
<line x1="27.16" y1="236.68" x2="22.02" y2="237.42" stroke="#a0a0a0" stroke-width="0.5"/>
<line x1="20.55" y1="243.29" x2="17.62" y2="242.55" stroke="#a0a0a0" stroke-width="0.5"/>
<line x1="20.55" y1="243.29" x2="23.49" y2="246.23" stroke="#a0a0a0" stroke-width="0.5"/>
<line x1="23.49" y1="246.23" x2="20.55" y2="243.29" stroke="#a0a0a0" stroke-width="0.5"/>
<line x1="70.47" y1="236.39" x2="66.80" y2="236.68" stroke="#a0a0a0" stroke-width="0.5"/>
<line x1="76.35" y1="239.32" x2="76.35" y2="242.55" stroke="#a0a0a0" stroke-width="0.5"/>
<line x1="76.35" y1="242.55" x2="76.35" y2="239.32" stroke="#a0a0a0" stroke-width="0.5"/>
<line x1="49.92" y1="256.21" x2="46.98" y2="256.21" stroke="#a0a0a0" stroke-width="0.5"/>
<line x1="44.78" y1="260.47" x2="46.98" y2="256.21" stroke="#a0a0a0" stroke-width="0.5"/>
<line x1="34.50" y1="264.14" x2="30.83" y2="262.38" stroke="#a0a0a0" stroke-width="0.5"/>
<line x1="30.83" y1="262.38" x2="31.57" y2="259.44" stroke="#a0a0a0" stroke-width="0.5"/>
<line x1="30.83" y1="262.38" x2="27.90" y2="264.14" stroke="#a0a0a0" stroke-width="0.5"/>
<line x1="30.83" y1="262.38" x2="34.50" y2="264.14" stroke="#a0a0a0" stroke-width="0.5"/>
<line x1="13.51" y1="261.64" x2="13.21" y2="266.05" stroke="#a0a0a0" stroke-width="0.5"/>
<line x1="13.21" y1="266.05" x2="9.54" y2="265.61" stroke="#a0a0a0" stroke-width="0.5"/>
<line x1="13.21" y1="266.05" x2="13.51" y2="261.64" stroke="#a0a0a0" stroke-width="0.5"/>
<line x1="13.21" y1="266.05" x2="11.75" y2="270.45" stroke="#a0a0a0" stroke-width="0.5"/>
<line x1="11.75" y1="270.45" x2="13.21" y2="266.05" stroke="#a0a0a0" stroke-width="0.5"/>
<line x1="40.38" y1="272.21" x2="35.24" y2="272.65" stroke="#a0a0a0" stroke-width="0.5"/>
<line x1="40.38" y1="272.21" x2="39.64" y2="275.59" stroke="#a0a0a0" stroke-width="0.5"/>
<line x1="39.64" y1="275.59" x2="42.58" y2="279.55" stroke="#a0a0a0" stroke-width="0.5"/>
<line x1="39.64" y1="275.59" x2="40.38" y2="272.21" stroke="#a0a0a0" stroke-width="0.5"/>
<line x1="48.45" y1="267.51" x2="52.86" y2="266.05" stroke="#a0a0a0" stroke-width="0.5"/>
<line x1="57.26" y1="265.31" x2="52.86" y2="263.84" stroke="#a0a0a0" stroke-width="0.5"/>
<line x1="57.26" y1="265.31" x2="52.86" y2="266.05" stroke="#a0a0a0" stroke-width="0.5"/>
<line x1="63.13" y1="263.11" x2="66.80" y2="263.11" stroke="#a0a0a0" stroke-width="0.5"/>
<line x1="79.28" y1="257.24" x2="82.22" y2="260.91" stroke="#a0a0a0" stroke-width="0.5"/>
<line x1="52.86" y1="277.06" x2="55.06" y2="278.53" stroke="#a0a0a0" stroke-width="0.5"/>
<line x1="55.06" y1="278.53" x2="52.86" y2="277.06" stroke="#a0a0a0" stroke-width="0.5"/>
<line x1="27.90" y1="284.11" x2="30.10" y2="279.55" stroke="#a0a0a0" stroke-width="0.5"/>
<line x1="27.90" y1="284.11" x2="30.83" y2="286.60" stroke="#a0a0a0" stroke-width="0.5"/>
<line x1="30.83" y1="286.60" x2="27.90" y2="284.11" stroke="#a0a0a0" stroke-width="0.5"/>
<line x1="40.38" y1="287.34" x2="41.84" y2="284.40" stroke="#a0a0a0" stroke-width="0.5"/>
<line x1="20.55" y1="293.94" x2="21.29" y2="289.83" stroke="#a0a0a0" stroke-width="0.5"/>
<line x1="20.55" y1="293.94" x2="16.88" y2="296.59" stroke="#a0a0a0" stroke-width="0.5"/>
<line x1="20.55" y1="293.94" x2="24.23" y2="295.41" stroke="#a0a0a0" stroke-width="0.5"/>
<line x1="24.23" y1="295.41" x2="26.43" y2="296.88" stroke="#a0a0a0" stroke-width="0.5"/>
<line x1="24.23" y1="295.41" x2="20.55" y2="293.94" stroke="#a0a0a0" stroke-width="0.5"/>
<line x1="27.16" y1="303.49" x2="24.23" y2="301.28" stroke="#a0a0a0" stroke-width="0.5"/>
<line x1="60.20" y1="301.28" x2="58.73" y2="296.88" stroke="#a0a0a0" stroke-width="0.5"/>
<line x1="61.66" y1="303.19" x2="66.80" y2="303.49" stroke="#a0a0a0" stroke-width="0.5"/>
<line x1="71.21" y1="303.19" x2="66.80" y2="303.49" stroke="#a0a0a0" stroke-width="0.5"/>
<line x1="11.01" y1="304.95" x2="7.34" y2="302.75" stroke="#a0a0a0" stroke-width="0.5"/>
<line x1="22.02" y1="304.66" x2="24.23" y2="301.28" stroke="#a0a0a0" stroke-width="0.5"/>
<line x1="20.55" y1="309.80" x2="17.62" y2="309.36" stroke="#a0a0a0" stroke-width="0.5"/>
<line x1="76.35" y1="305.69" x2="76.35" y2="309.36" stroke="#a0a0a0" stroke-width="0.5"/>
<line x1="76.35" y1="309.36" x2="76.35" y2="305.69" stroke="#a0a0a0" stroke-width="0.5"/>
<line x1="7.34" y1="236.68" x2="11.01" y2="238.44" stroke="#a0a0a0" stroke-width="0.5"/>
<line x1="7.34" y1="302.75" x2="11.01" y2="304.95" stroke="#a0a0a0" stroke-width="0.5"/>
<circle cx="11.01" cy="238.44" r="1.75" fill="#d6d63c"/>
<circle cx="22.02" cy="237.42" r="1.75" fill="#d6d63c"/>
<circle cx="27.16" cy="236.68" r="1.75" fill="#d6d63c"/>
<circle cx="20.55" cy="243.29" r="1.75" fill="#d6d63c"/>
<circle cx="23.49" cy="246.23" r="1.75" fill="#d6d63c"/>
<circle cx="48.45" cy="230.08" r="1.75" fill="#d6d63c"/>
<circle cx="60.20" cy="235.95" r="1.75" fill="#d6d63c"/>
<circle cx="70.47" cy="236.39" r="1.75" fill="#d6d63c"/>
<circle cx="76.35" cy="239.32" r="1.75" fill="#d6d63c"/>
<circle cx="76.35" cy="242.55" r="1.75" fill="#d6d63c"/>
<circle cx="37.44" cy="250.34" r="1.75" fill="#d6d63c"/>
<circle cx="49.92" cy="256.21" r="1.75" fill="#d6d63c"/>
<circle cx="44.78" cy="260.47" r="1.75" fill="#d6d63c"/>
<circle cx="34.50" cy="264.14" r="1.75" fill="#d6d63c"/>
<circle cx="30.83" cy="262.38" r="1.75" fill="#d6d63c"/>
<circle cx="22.76" cy="261.64" r="1.75" fill="#d6d63c"/>
<circle cx="13.51" cy="261.64" r="1.75" fill="#d6d63c"/>
<circle cx="13.21" cy="266.05" r="1.75" fill="#d6d63c"/>
<circle cx="11.75" cy="270.45" r="1.75" fill="#d6d63c"/>
<circle cx="20.55" cy="277.79" r="1.75" fill="#d6d63c"/>
<circle cx="40.38" cy="272.21" r="1.75" fill="#d6d63c"/>
<circle cx="39.64" cy="275.59" r="1.75" fill="#d6d63c"/>
<circle cx="48.45" cy="267.51" r="1.75" fill="#d6d63c"/>
<circle cx="57.26" cy="265.31" r="1.75" fill="#d6d63c"/>
<circle cx="63.13" cy="263.11" r="1.75" fill="#d6d63c"/>
<circle cx="74.14" cy="253.57" r="1.75" fill="#d6d63c"/>
<circle cx="79.28" cy="257.24" r="1.75" fill="#d6d63c"/>
<circle cx="74.88" cy="268.69" r="1.75" fill="#d6d63c"/>
<circle cx="76.35" cy="274.86" r="1.75" fill="#d6d63c"/>
<circle cx="52.86" cy="277.06" r="1.75" fill="#d6d63c"/>
<circle cx="55.06" cy="278.53" r="1.75" fill="#d6d63c"/>
<circle cx="27.90" cy="284.11" r="1.75" fill="#d6d63c"/>
<circle cx="30.83" cy="286.60" r="1.75" fill="#d6d63c"/>
<circle cx="40.38" cy="287.34" r="1.75" fill="#d6d63c"/>
<circle cx="58.73" cy="290.27" r="1.75" fill="#d6d63c"/>
<circle cx="71.94" cy="290.71" r="1.75" fill="#d6d63c"/>
<circle cx="20.55" cy="293.94" r="1.75" fill="#d6d63c"/>
<circle cx="24.23" cy="295.41" r="1.75" fill="#d6d63c"/>
<circle cx="27.16" cy="303.49" r="1.75" fill="#d6d63c"/>
<circle cx="48.45" cy="295.85" r="1.75" fill="#d6d63c"/>
<circle cx="60.20" cy="301.28" r="1.75" fill="#d6d63c"/>
<circle cx="61.66" cy="303.19" r="1.75" fill="#d6d63c"/>
<circle cx="71.21" cy="303.19" r="1.75" fill="#d6d63c"/>
<circle cx="11.01" cy="304.95" r="1.75" fill="#d6d63c"/>
<circle cx="22.02" cy="304.66" r="1.75" fill="#d6d63c"/>
<circle cx="20.55" cy="309.80" r="1.75" fill="#d6d63c"/>
<circle cx="76.35" cy="305.69" r="1.75" fill="#d6d63c"/>
<circle cx="79.28" cy="285.43" r="1.75" fill="#d6d63c"/>
<circle cx="81.49" cy="285.13" r="1.75" fill="#d6d63c"/>
<circle cx="80.02" cy="293.65" r="1.75" fill="#d6d63c"/>
<circle cx="76.35" cy="309.36" r="1.75" fill="#d6d63c"/>
<circle cx="7.34" cy="236.68" r="1.75" fill="#d6d63c"/>
<circle cx="7.34" cy="302.75" r="1.75" fill="#d6d63c"/>
<circle cx="16.88" cy="230.08" r="1.75" fill="#5b3fa8"/>
<circle cx="24.23" cy="229.34" r="1.75" fill="#5b3fa8"/>
<circle cx="26.43" cy="229.63" r="1.75" fill="#5b3fa8"/>
<circle cx="24.23" cy="234.48" r="1.75" fill="#5b3fa8"/>
<circle cx="55.06" cy="231.98" r="1.75" fill="#5b3fa8"/>
<circle cx="59.46" cy="230.08" r="1.75" fill="#5b3fa8"/>
<circle cx="66.80" cy="236.68" r="1.75" fill="#5b3fa8"/>
<circle cx="67.54" cy="243.00" r="1.75" fill="#5b3fa8"/>
<circle cx="44.05" cy="244.02" r="1.75" fill="#5b3fa8"/>
<circle cx="11.75" cy="245.20" r="1.75" fill="#5b3fa8"/>
<circle cx="17.62" cy="242.55" r="1.75" fill="#5b3fa8"/>
<circle cx="15.42" cy="252.54" r="1.75" fill="#5b3fa8"/>
<circle cx="33.03" cy="254.30" r="1.75" fill="#5b3fa8"/>
<circle cx="29.36" cy="256.94" r="1.75" fill="#5b3fa8"/>
<circle cx="31.57" cy="259.44" r="1.75" fill="#5b3fa8"/>
<circle cx="27.90" cy="264.14" r="1.75" fill="#5b3fa8"/>
<circle cx="46.98" cy="256.21" r="1.75" fill="#5b3fa8"/>
<circle cx="9.54" cy="265.61" r="1.75" fill="#5b3fa8"/>
<circle cx="19.09" cy="266.05" r="1.75" fill="#5b3fa8"/>
<circle cx="9.54" cy="271.63" r="1.75" fill="#5b3fa8"/>
<circle cx="11.75" cy="277.06" r="1.75" fill="#5b3fa8"/>
<circle cx="35.24" cy="272.65" r="1.75" fill="#5b3fa8"/>
<circle cx="52.86" cy="263.84" r="1.75" fill="#5b3fa8"/>
<circle cx="52.86" cy="266.05" r="1.75" fill="#5b3fa8"/>
<circle cx="66.80" cy="263.11" r="1.75" fill="#5b3fa8"/>
<circle cx="62.40" cy="270.74" r="1.75" fill="#5b3fa8"/>
<circle cx="59.46" cy="275.15" r="1.75" fill="#5b3fa8"/>
<circle cx="42.58" cy="279.55" r="1.75" fill="#5b3fa8"/>
<circle cx="30.10" cy="279.55" r="1.75" fill="#5b3fa8"/>
<circle cx="41.84" cy="284.40" r="1.75" fill="#5b3fa8"/>
<circle cx="56.53" cy="283.66" r="1.75" fill="#5b3fa8"/>
<circle cx="21.29" cy="289.83" r="1.75" fill="#5b3fa8"/>
<circle cx="29.36" cy="293.50" r="1.75" fill="#5b3fa8"/>
<circle cx="26.43" cy="296.88" r="1.75" fill="#5b3fa8"/>
<circle cx="16.88" cy="296.59" r="1.75" fill="#5b3fa8"/>
<circle cx="24.23" cy="301.28" r="1.75" fill="#5b3fa8"/>
<circle cx="55.06" cy="295.12" r="1.75" fill="#5b3fa8"/>
<circle cx="55.06" cy="298.35" r="1.75" fill="#5b3fa8"/>
<circle cx="58.73" cy="296.88" r="1.75" fill="#5b3fa8"/>
<circle cx="66.80" cy="303.49" r="1.75" fill="#5b3fa8"/>
<circle cx="17.62" cy="309.36" r="1.75" fill="#5b3fa8"/>
<circle cx="44.05" cy="310.09" r="1.75" fill="#5b3fa8"/>
<circle cx="67.54" cy="309.80" r="1.75" fill="#5b3fa8"/>
<circle cx="85.16" cy="257.97" r="1.75" fill="#5b3fa8"/>
<circle cx="82.22" cy="260.91" r="1.75" fill="#5b3fa8"/>
<line x1="211.15" y1="230.81" x2="211.15" y2="233.75" stroke="#a0a0a0" stroke-width="0.5"/>
<line x1="211.15" y1="233.75" x2="211.15" y2="230.81" stroke="#a0a0a0" stroke-width="0.5"/>
<line x1="244.19" y1="231.10" x2="244.92" y2="233.75" stroke="#a0a0a0" stroke-width="0.5"/>
<line x1="244.92" y1="233.75" x2="242.72" y2="229.63" stroke="#a0a0a0" stroke-width="0.5"/>
<line x1="244.92" y1="233.75" x2="247.86" y2="236.24" stroke="#a0a0a0" stroke-width="0.5"/>
<line x1="244.92" y1="233.75" x2="244.19" y2="231.10" stroke="#a0a0a0" stroke-width="0.5"/>
<line x1="255.93" y1="236.39" x2="260.34" y2="238.44" stroke="#a0a0a0" stroke-width="0.5"/>
<line x1="260.34" y1="238.44" x2="255.93" y2="236.39" stroke="#a0a0a0" stroke-width="0.5"/>
<line x1="269.88" y1="243.73" x2="266.94" y2="242.55" stroke="#a0a0a0" stroke-width="0.5"/>
<line x1="211.88" y1="242.55" x2="213.35" y2="239.91" stroke="#a0a0a0" stroke-width="0.5"/>
<line x1="252.99" y1="247.25" x2="250.06" y2="244.02" stroke="#a0a0a0" stroke-width="0.5"/>
<line x1="235.38" y1="259.15" x2="239.78" y2="260.91" stroke="#a0a0a0" stroke-width="0.5"/>
<line x1="239.78" y1="260.91" x2="241.98" y2="263.55" stroke="#a0a0a0" stroke-width="0.5"/>
<line x1="239.78" y1="260.91" x2="235.38" y2="259.15" stroke="#a0a0a0" stroke-width="0.5"/>
<line x1="262.54" y1="261.64" x2="261.80" y2="266.05" stroke="#a0a0a0" stroke-width="0.5"/>
<line x1="261.80" y1="266.05" x2="258.87" y2="265.75" stroke="#a0a0a0" stroke-width="0.5"/>
<line x1="261.80" y1="266.05" x2="262.54" y2="261.64" stroke="#a0a0a0" stroke-width="0.5"/>
<line x1="261.80" y1="266.05" x2="261.07" y2="270.45" stroke="#a0a0a0" stroke-width="0.5"/>
<line x1="228.77" y1="264.58" x2="225.83" y2="265.75" stroke="#a0a0a0" stroke-width="0.5"/>
<line x1="222.90" y1="269.72" x2="225.83" y2="265.75" stroke="#a0a0a0" stroke-width="0.5"/>
<line x1="205.28" y1="267.81" x2="205.28" y2="270.89" stroke="#a0a0a0" stroke-width="0.5"/>
<line x1="205.28" y1="270.89" x2="205.28" y2="267.81" stroke="#a0a0a0" stroke-width="0.5"/>
<line x1="230.24" y1="278.97" x2="232.44" y2="283.66" stroke="#a0a0a0" stroke-width="0.5"/>
<line x1="261.07" y1="270.45" x2="258.87" y2="265.75" stroke="#a0a0a0" stroke-width="0.5"/>
<line x1="261.07" y1="270.45" x2="258.13" y2="271.92" stroke="#a0a0a0" stroke-width="0.5"/>
<line x1="261.07" y1="270.45" x2="261.80" y2="266.05" stroke="#a0a0a0" stroke-width="0.5"/>
<line x1="241.98" y1="291.74" x2="242.72" y2="295.41" stroke="#a0a0a0" stroke-width="0.5"/>
<line x1="244.19" y1="298.35" x2="242.72" y2="295.41" stroke="#a0a0a0" stroke-width="0.5"/>
<line x1="244.92" y1="300.55" x2="247.86" y2="302.75" stroke="#a0a0a0" stroke-width="0.5"/>
<line x1="269.88" y1="293.94" x2="269.14" y2="289.83" stroke="#a0a0a0" stroke-width="0.5"/>
<line x1="269.88" y1="293.94" x2="266.21" y2="296.88" stroke="#a0a0a0" stroke-width="0.5"/>
<line x1="211.15" y1="297.61" x2="211.15" y2="300.55" stroke="#a0a0a0" stroke-width="0.5"/>
<line x1="211.15" y1="300.55" x2="211.15" y2="297.61" stroke="#a0a0a0" stroke-width="0.5"/>
<line x1="211.88" y1="309.80" x2="213.35" y2="306.42" stroke="#a0a0a0" stroke-width="0.5"/>
<line x1="202.34" y1="287.78" x2="200.87" y2="291.01" stroke="#a0a0a0" stroke-width="0.5"/>
<circle cx="211.15" cy="230.81" r="1.75" fill="#d6d63c"/>
<circle cx="211.15" cy="233.75" r="1.75" fill="#d6d63c"/>
<circle cx="219.23" cy="231.98" r="1.75" fill="#d6d63c"/>
<circle cx="244.19" cy="231.10" r="1.75" fill="#d6d63c"/>
<circle cx="244.92" cy="233.75" r="1.75" fill="#d6d63c"/>
<circle cx="255.93" cy="236.39" r="1.75" fill="#d6d63c"/>
<circle cx="260.34" cy="238.44" r="1.75" fill="#d6d63c"/>
<circle cx="269.88" cy="243.73" r="1.75" fill="#d6d63c"/>
<circle cx="211.88" cy="242.55" r="1.75" fill="#d6d63c"/>
<circle cx="237.58" cy="248.13" r="1.75" fill="#d6d63c"/>
<circle cx="252.99" cy="247.25" r="1.75" fill="#d6d63c"/>
<circle cx="215.55" cy="254.01" r="1.75" fill="#d6d63c"/>
<circle cx="226.57" cy="252.54" r="1.75" fill="#d6d63c"/>
<circle cx="235.38" cy="259.15" r="1.75" fill="#d6d63c"/>
<circle cx="239.78" cy="260.91" r="1.75" fill="#d6d63c"/>
<circle cx="249.32" cy="266.78" r="1.75" fill="#d6d63c"/>
<circle cx="262.54" cy="261.64" r="1.75" fill="#d6d63c"/>
<circle cx="261.80" cy="266.05" r="1.75" fill="#d6d63c"/>
<circle cx="228.77" cy="264.58" r="1.75" fill="#d6d63c"/>
<circle cx="222.90" cy="269.72" r="1.75" fill="#d6d63c"/>
<circle cx="217.76" cy="270.89" r="1.75" fill="#d6d63c"/>
<circle cx="211.15" cy="268.69" r="1.75" fill="#d6d63c"/>
<circle cx="205.28" cy="267.81" r="1.75" fill="#d6d63c"/>
<circle cx="205.28" cy="270.89" r="1.75" fill="#d6d63c"/>
<circle cx="208.95" cy="278.53" r="1.75" fill="#d6d63c"/>
<circle cx="230.24" cy="278.97" r="1.75" fill="#d6d63c"/>
<circle cx="239.78" cy="283.37" r="1.75" fill="#d6d63c"/>
<circle cx="247.86" cy="278.53" r="1.75" fill="#d6d63c"/>
<circle cx="269.14" cy="277.79" r="1.75" fill="#d6d63c"/>
<circle cx="261.07" cy="270.45" r="1.75" fill="#d6d63c"/>
<circle cx="219.23" cy="288.07" r="1.75" fill="#d6d63c"/>
<circle cx="218.49" cy="298.35" r="1.75" fill="#d6d63c"/>
<circle cx="240.51" cy="290.27" r="1.75" fill="#d6d63c"/>
<circle cx="241.98" cy="291.74" r="1.75" fill="#d6d63c"/>
<circle cx="244.19" cy="298.35" r="1.75" fill="#d6d63c"/>
<circle cx="244.92" cy="300.55" r="1.75" fill="#d6d63c"/>
<circle cx="269.88" cy="293.94" r="1.75" fill="#d6d63c"/>
<circle cx="255.20" cy="303.05" r="1.75" fill="#d6d63c"/>
<circle cx="260.34" cy="305.39" r="1.75" fill="#d6d63c"/>
<circle cx="211.15" cy="297.61" r="1.75" fill="#d6d63c"/>
<circle cx="211.15" cy="300.55" r="1.75" fill="#d6d63c"/>
<circle cx="211.88" cy="309.80" r="1.75" fill="#d6d63c"/>
<circle cx="202.34" cy="287.78" r="1.75" fill="#d6d63c"/>
<circle cx="230.97" cy="233.45" r="1.75" fill="#5b3fa8"/>
<circle cx="242.72" cy="229.63" r="1.75" fill="#5b3fa8"/>
<circle cx="247.86" cy="236.24" r="1.75" fill="#5b3fa8"/>
<circle cx="248.59" cy="242.55" r="1.75" fill="#5b3fa8"/>
<circle cx="250.06" cy="244.02" r="1.75" fill="#5b3fa8"/>
<circle cx="261.07" cy="245.20" r="1.75" fill="#5b3fa8"/>
<circle cx="266.94" cy="242.55" r="1.75" fill="#5b3fa8"/>
<circle cx="266.21" cy="230.08" r="1.75" fill="#5b3fa8"/>
<circle cx="213.35" cy="239.91" r="1.75" fill="#5b3fa8"/>
<circle cx="217.02" cy="246.67" r="1.75" fill="#5b3fa8"/>
<circle cx="202.34" cy="249.16" r="1.75" fill="#5b3fa8"/>
<circle cx="197.20" cy="253.57" r="1.75" fill="#5b3fa8"/>
<circle cx="198.67" cy="259.44" r="1.75" fill="#5b3fa8"/>
<circle cx="203.81" cy="261.35" r="1.75" fill="#5b3fa8"/>
<circle cx="264.01" cy="252.54" r="1.75" fill="#5b3fa8"/>
<circle cx="245.65" cy="260.91" r="1.75" fill="#5b3fa8"/>
<circle cx="241.98" cy="263.55" r="1.75" fill="#5b3fa8"/>
<circle cx="225.83" cy="265.75" r="1.75" fill="#5b3fa8"/>
<circle cx="224.36" cy="267.81" r="1.75" fill="#5b3fa8"/>
<circle cx="220.69" cy="276.32" r="1.75" fill="#5b3fa8"/>
<circle cx="235.38" cy="273.68" r="1.75" fill="#5b3fa8"/>
<circle cx="236.11" cy="279.26" r="1.75" fill="#5b3fa8"/>
<circle cx="232.44" cy="283.66" r="1.75" fill="#5b3fa8"/>
<circle cx="245.65" cy="287.34" r="1.75" fill="#5b3fa8"/>
<circle cx="253.73" cy="289.83" r="1.75" fill="#5b3fa8"/>
<circle cx="269.14" cy="289.83" r="1.75" fill="#5b3fa8"/>
<circle cx="258.87" cy="265.75" r="1.75" fill="#5b3fa8"/>
<circle cx="268.41" cy="266.34" r="1.75" fill="#5b3fa8"/>
<circle cx="258.13" cy="271.92" r="1.75" fill="#5b3fa8"/>
<circle cx="261.07" cy="277.06" r="1.75" fill="#5b3fa8"/>
<circle cx="203.81" cy="281.90" r="1.75" fill="#5b3fa8"/>
<circle cx="200.87" cy="291.01" r="1.75" fill="#5b3fa8"/>
<circle cx="216.29" cy="293.21" r="1.75" fill="#5b3fa8"/>
<circle cx="225.10" cy="293.50" r="1.75" fill="#5b3fa8"/>
<circle cx="230.97" cy="300.26" r="1.75" fill="#5b3fa8"/>
<circle cx="242.72" cy="295.41" r="1.75" fill="#5b3fa8"/>
<circle cx="247.86" cy="302.75" r="1.75" fill="#5b3fa8"/>
<circle cx="266.21" cy="296.88" r="1.75" fill="#5b3fa8"/>
<circle cx="213.35" cy="306.42" r="1.75" fill="#5b3fa8"/>
<circle cx="248.59" cy="309.80" r="1.75" fill="#5b3fa8"/>
<circle cx="266.94" cy="309.80" r="1.75" fill="#5b3fa8"/>
<circle cx="197.20" cy="283.66" r="1.75" fill="#5b3fa8"/>
</g>
<text x="5.80" y="332.20" font-size="19.5" text-anchor="start" fill="#1e1e1e" font-weight="bold">e</text>
<rect x="73.45" y="350.48" width="25.60" height="57.42" fill="#2d6f99"/>
<rect x="135.80" y="359.38" width="25.60" height="48.52" fill="#2d6f99"/>
<line x1="148.60" y1="357.37" x2="148.60" y2="361.39" stroke="#111" stroke-width="1"/>
<line x1="146.40" y1="357.37" x2="150.80" y2="357.37" stroke="#111" stroke-width="1"/>
<line x1="146.40" y1="361.39" x2="150.80" y2="361.39" stroke="#111" stroke-width="1"/>
<rect x="198.20" y="365.07" width="25.60" height="42.83" fill="#2d6f99"/>
<line x1="211.00" y1="363.34" x2="211.00" y2="366.79" stroke="#111" stroke-width="1"/>
<line x1="208.80" y1="363.34" x2="213.20" y2="363.34" stroke="#111" stroke-width="1"/>
<line x1="208.80" y1="366.79" x2="213.20" y2="366.79" stroke="#111" stroke-width="1"/>
<rect x="55.50" y="339.50" width="187.00" height="68.00" fill="none" stroke="#333333" stroke-width="1"/>
<line x1="86.50" y1="407.00" x2="86.50" y2="412.00" stroke="#333333" stroke-width="1"/>
<line x1="148.50" y1="407.00" x2="148.50" y2="412.00" stroke="#333333" stroke-width="1"/>
<line x1="211.50" y1="407.00" x2="211.50" y2="412.00" stroke="#333333" stroke-width="1"/>
<line x1="51.00" y1="407.50" x2="56.00" y2="407.50" stroke="#333333" stroke-width="1"/>
<line x1="51.00" y1="379.50" x2="56.00" y2="379.50" stroke="#333333" stroke-width="1"/>
<line x1="51.00" y1="350.50" x2="56.00" y2="350.50" stroke="#333333" stroke-width="1"/>
<line x1="53.00" y1="393.50" x2="56.00" y2="393.50" stroke="#333333" stroke-width="1"/>
<line x1="53.00" y1="364.50" x2="56.00" y2="364.50" stroke="#333333" stroke-width="1"/>
<text x="86.85" y="421.70" font-size="12.2" text-anchor="middle" fill="#1e1e1e">15.3</text>
<text x="149.20" y="421.70" font-size="12.2" text-anchor="middle" fill="#1e1e1e">20.3</text>
<text x="211.60" y="421.70" font-size="12.2" text-anchor="middle" fill="#1e1e1e">25.3</text>
<text x="50.50" y="412.20" font-size="12.0" text-anchor="end" fill="#1e1e1e">0.0</text>
<text x="50.50" y="383.49" font-size="12.0" text-anchor="end" fill="#1e1e1e">0.5</text>
<text x="50.50" y="354.78" font-size="12.0" text-anchor="end" fill="#1e1e1e">1.0</text>
<text x="22.20" y="373.50" font-size="13.6" text-anchor="middle" fill="#1e1e1e" transform="rotate(-90 22.20 373.50)">n<tspan dy="-5" font-size="9.5">+</tspan><tspan dy="5">/(n</tspan><tspan dy="-5" font-size="9.5">+</tspan><tspan dy="5">+n</tspan><tspan dy="-5" font-size="9.5">-</tspan><tspan dy="5">)</tspan></text>
<text x="309.30" y="218.20" font-size="19.5" text-anchor="start" fill="#1e1e1e" font-weight="bold">f</text>
<rect x="358.00" y="367.20" width="34.15" height="4.10" fill="#4b7db9"/>
<rect x="392.15" y="367.20" width="34.15" height="4.10" fill="#f09155"/>
<rect x="426.30" y="367.20" width="34.15" height="4.10" fill="#4b7db9"/>
<rect x="460.45" y="367.20" width="34.15" height="4.10" fill="#f09155"/>
<rect x="494.60" y="367.20" width="34.15" height="4.10" fill="#4b7db9"/>
<rect x="528.75" y="367.20" width="34.15" height="4.10" fill="#f09155"/>
<rect x="562.90" y="367.20" width="34.15" height="4.10" fill="#4b7db9"/>
<rect x="597.05" y="367.20" width="34.15" height="4.10" fill="#f09155"/>
<rect x="631.20" y="367.20" width="34.15" height="4.10" fill="#4b7db9"/>
<rect x="665.35" y="367.20" width="34.15" height="4.10" fill="#f09155"/>
<rect x="699.50" y="367.20" width="34.15" height="4.10" fill="#4b7db9"/>
<rect x="733.65" y="367.20" width="34.15" height="4.10" fill="#f09155"/>
<rect x="358.90" y="404.30" width="34.06" height="5.00" fill="#4b7db9"/>
<rect x="392.91" y="404.30" width="34.06" height="5.00" fill="#f09155"/>
<rect x="426.92" y="404.30" width="34.06" height="5.00" fill="#4b7db9"/>
<rect x="460.92" y="404.30" width="34.06" height="5.00" fill="#f09155"/>
<rect x="494.93" y="404.30" width="34.06" height="5.00" fill="#4b7db9"/>
<rect x="528.94" y="404.30" width="34.06" height="5.00" fill="#f09155"/>
<rect x="562.95" y="404.30" width="34.06" height="5.00" fill="#4b7db9"/>
<rect x="596.96" y="404.30" width="34.06" height="5.00" fill="#f09155"/>
<rect x="630.97" y="404.30" width="34.06" height="5.00" fill="#4b7db9"/>
<rect x="664.97" y="404.30" width="34.06" height="5.00" fill="#f09155"/>
<rect x="698.98" y="404.30" width="34.06" height="5.00" fill="#4b7db9"/>
<rect x="732.99" y="404.30" width="34.06" height="5.00" fill="#f09155"/>
<polyline points="358.00,247.75 360.05,247.75 392.15,247.92 392.15,351.53 394.88,351.26 426.30,350.56 426.30,247.92 428.35,247.40 460.45,247.57 460.45,351.09 463.18,350.83 494.60,350.12 494.60,247.92 496.65,247.40 528.75,247.57 528.75,351.09 531.48,350.83 562.90,350.12 562.90,247.48 564.95,246.96 597.05,247.13 597.05,351.35 599.78,351.09 631.20,350.39 631.20,248.10 633.25,247.57 665.35,247.75 665.35,350.83 668.08,350.56 699.50,349.86 699.50,248.27 701.55,247.75 733.65,247.92 733.65,350.47 736.38,350.21 767.80,349.51" fill="none" stroke="#4784ba" stroke-width="1.25"/>
<rect x="358.50" y="230.50" width="409.00" height="141.00" fill="none" stroke="#1e1e1e" stroke-width="1.1"/>
<line x1="358.50" y1="371.00" x2="358.50" y2="376.00" stroke="#333333" stroke-width="1"/>
<line x1="426.50" y1="371.00" x2="426.50" y2="376.00" stroke="#333333" stroke-width="1"/>
<line x1="494.50" y1="371.00" x2="494.50" y2="376.00" stroke="#333333" stroke-width="1"/>
<line x1="562.50" y1="371.00" x2="562.50" y2="376.00" stroke="#333333" stroke-width="1"/>
<line x1="631.50" y1="371.00" x2="631.50" y2="376.00" stroke="#333333" stroke-width="1"/>
<line x1="699.50" y1="371.00" x2="699.50" y2="376.00" stroke="#333333" stroke-width="1"/>
<line x1="767.50" y1="371.00" x2="767.50" y2="376.00" stroke="#333333" stroke-width="1"/>
<line x1="392.50" y1="371.00" x2="392.50" y2="374.00" stroke="#333333" stroke-width="1"/>
<line x1="460.50" y1="371.00" x2="460.50" y2="374.00" stroke="#333333" stroke-width="1"/>
<line x1="528.50" y1="371.00" x2="528.50" y2="374.00" stroke="#333333" stroke-width="1"/>
<line x1="597.50" y1="371.00" x2="597.50" y2="374.00" stroke="#333333" stroke-width="1"/>
<line x1="665.50" y1="371.00" x2="665.50" y2="374.00" stroke="#333333" stroke-width="1"/>
<line x1="733.50" y1="371.00" x2="733.50" y2="374.00" stroke="#333333" stroke-width="1"/>
<line x1="354.00" y1="371.50" x2="359.00" y2="371.50" stroke="#333333" stroke-width="1"/>
<line x1="354.00" y1="336.50" x2="359.00" y2="336.50" stroke="#333333" stroke-width="1"/>
<line x1="354.00" y1="301.50" x2="359.00" y2="301.50" stroke="#333333" stroke-width="1"/>
<line x1="354.00" y1="265.50" x2="359.00" y2="265.50" stroke="#333333" stroke-width="1"/>
<line x1="354.00" y1="230.50" x2="359.00" y2="230.50" stroke="#333333" stroke-width="1"/>
<line x1="356.00" y1="353.50" x2="359.00" y2="353.50" stroke="#333333" stroke-width="1"/>
<line x1="356.00" y1="318.50" x2="359.00" y2="318.50" stroke="#333333" stroke-width="1"/>
<line x1="356.00" y1="283.50" x2="359.00" y2="283.50" stroke="#333333" stroke-width="1"/>
<line x1="356.00" y1="248.50" x2="359.00" y2="248.50" stroke="#333333" stroke-width="1"/>
<text x="426.30" y="388.00" font-size="12.0" text-anchor="middle" fill="#1e1e1e">10</text>
<text x="494.60" y="388.00" font-size="12.0" text-anchor="middle" fill="#1e1e1e">20</text>
<text x="562.90" y="388.00" font-size="12.0" text-anchor="middle" fill="#1e1e1e">30</text>
<text x="631.20" y="388.00" font-size="12.0" text-anchor="middle" fill="#1e1e1e">40</text>
<text x="699.50" y="388.00" font-size="12.0" text-anchor="middle" fill="#1e1e1e">50</text>
<text x="767.80" y="384.80" font-size="12.0" text-anchor="middle" fill="#1e1e1e">60</text>
<text x="350.30" y="375.50" font-size="12.2" text-anchor="end" fill="#1e1e1e">-80</text>
<text x="350.30" y="340.35" font-size="12.2" text-anchor="end" fill="#1e1e1e">-40</text>
<text x="350.30" y="305.20" font-size="12.2" text-anchor="end" fill="#1e1e1e">0</text>
<text x="350.30" y="270.05" font-size="12.2" text-anchor="end" fill="#1e1e1e">40</text>
<text x="350.30" y="234.90" font-size="12.2" text-anchor="end" fill="#1e1e1e">80</text>
<text x="741.20" y="243.80" font-size="11.8" text-anchor="middle" fill="#1e1e1e">pH=7.0</text>
<text x="371.60" y="400.20" font-size="11.0" text-anchor="middle" fill="#1e1e1e">1V</text>
<text x="444.20" y="400.20" font-size="11.0" text-anchor="middle" fill="#1e1e1e">1V</text>
<text x="510.50" y="400.20" font-size="11.0" text-anchor="middle" fill="#1e1e1e">1V</text>
<text x="577.80" y="400.20" font-size="11.0" text-anchor="middle" fill="#1e1e1e">1V</text>
<text x="649.50" y="400.20" font-size="11.0" text-anchor="middle" fill="#1e1e1e">1V</text>
<text x="712.80" y="400.20" font-size="11.0" text-anchor="middle" fill="#1e1e1e">1V</text>
<text x="408.80" y="421.00" font-size="11.0" text-anchor="middle" fill="#1e1e1e">-1V</text>
<text x="476.50" y="421.00" font-size="11.0" text-anchor="middle" fill="#1e1e1e">-1V</text>
<text x="546.90" y="421.00" font-size="11.0" text-anchor="middle" fill="#1e1e1e">-1V</text>
<text x="612.60" y="421.00" font-size="11.0" text-anchor="middle" fill="#1e1e1e">-1V</text>
<text x="683.90" y="421.00" font-size="11.0" text-anchor="middle" fill="#1e1e1e">-1V</text>
<text x="749.00" y="421.00" font-size="11.0" text-anchor="middle" fill="#1e1e1e">-1V</text>
<text x="319.90" y="300.90" font-size="13.8" text-anchor="middle" fill="#1e1e1e" transform="rotate(-90 319.90 300.90)">Current (µA)</text>
<text x="8.40" y="452.40" font-size="19.5" text-anchor="start" fill="#1e1e1e" font-weight="bold">g</text>
<clipPath id="cg"><rect x="47.5" y="453.0" width="194.0" height="145.39999999999998"/></clipPath>
<line x1="144.50" y1="453.00" x2="144.50" y2="598.40" stroke="#333" stroke-width="1" stroke-dasharray="4,3"/>
<line x1="47.50" y1="492.60" x2="241.50" y2="492.60" stroke="#333" stroke-width="1" stroke-dasharray="4,3"/>
<g clip-path="url(#cg)">
<circle cx="51.38" cy="509.39" r="3.9" fill="#2b6d98"/>
<circle cx="59.14" cy="507.60" r="3.9" fill="#2b6d98"/>
<circle cx="66.90" cy="506.28" r="3.9" fill="#2b6d98"/>
<circle cx="74.66" cy="504.37" r="3.9" fill="#2b6d98"/>
<circle cx="82.42" cy="502.90" r="3.9" fill="#2b6d98"/>
<circle cx="90.18" cy="501.58" r="3.9" fill="#2b6d98"/>
<circle cx="97.94" cy="500.10" r="3.9" fill="#2b6d98"/>
<circle cx="105.70" cy="498.72" r="3.9" fill="#2b6d98"/>
<circle cx="113.46" cy="497.40" r="3.9" fill="#2b6d98"/>
<circle cx="121.22" cy="496.30" r="3.9" fill="#2b6d98"/>
<circle cx="128.98" cy="494.98" r="3.9" fill="#2b6d98"/>
<circle cx="136.74" cy="493.66" r="3.9" fill="#2b6d98"/>
<circle cx="144.50" cy="492.60" r="3.9" fill="#2b6d98"/>
<circle cx="152.26" cy="492.60" r="3.9" fill="#2b6d98"/>
<circle cx="160.02" cy="492.60" r="3.9" fill="#2b6d98"/>
<circle cx="167.78" cy="492.49" r="3.9" fill="#2b6d98"/>
<circle cx="175.54" cy="492.28" r="3.9" fill="#2b6d98"/>
<circle cx="183.30" cy="491.97" r="3.9" fill="#2b6d98"/>
<circle cx="191.06" cy="491.70" r="3.9" fill="#2b6d98"/>
<circle cx="198.82" cy="491.33" r="3.9" fill="#2b6d98"/>
<circle cx="206.58" cy="491.02" r="3.9" fill="#2b6d98"/>
<circle cx="214.34" cy="490.70" r="3.9" fill="#2b6d98"/>
<circle cx="222.10" cy="490.38" r="3.9" fill="#2b6d98"/>
<circle cx="229.86" cy="489.96" r="3.9" fill="#2b6d98"/>
<circle cx="237.62" cy="489.59" r="3.9" fill="#2b6d98"/>
<circle cx="51.38" cy="571.80" r="3.9" fill="#f08c4a"/>
<circle cx="59.14" cy="564.94" r="3.9" fill="#f08c4a"/>
<circle cx="66.90" cy="557.02" r="3.9" fill="#f08c4a"/>
<circle cx="74.66" cy="549.62" r="3.9" fill="#f08c4a"/>
<circle cx="82.42" cy="542.76" r="3.9" fill="#f08c4a"/>
<circle cx="90.18" cy="534.84" r="3.9" fill="#f08c4a"/>
<circle cx="97.94" cy="527.98" r="3.9" fill="#f08c4a"/>
<circle cx="105.70" cy="521.11" r="3.9" fill="#f08c4a"/>
<circle cx="113.46" cy="515.30" r="3.9" fill="#f08c4a"/>
<circle cx="121.22" cy="509.50" r="3.9" fill="#f08c4a"/>
<circle cx="128.98" cy="503.69" r="3.9" fill="#f08c4a"/>
<circle cx="136.74" cy="498.94" r="3.9" fill="#f08c4a"/>
<circle cx="144.50" cy="494.98" r="3.9" fill="#f08c4a"/>
<circle cx="152.26" cy="491.02" r="3.9" fill="#f08c4a"/>
<circle cx="160.02" cy="487.32" r="3.9" fill="#f08c4a"/>
<circle cx="167.78" cy="482.57" r="3.9" fill="#f08c4a"/>
<circle cx="175.54" cy="478.87" r="3.9" fill="#f08c4a"/>
<circle cx="183.30" cy="476.23" r="3.9" fill="#f08c4a"/>
<circle cx="191.06" cy="474.12" r="3.9" fill="#f08c4a"/>
<circle cx="198.82" cy="472.54" r="3.9" fill="#f08c4a"/>
<circle cx="206.58" cy="471.48" r="3.9" fill="#f08c4a"/>
<circle cx="214.34" cy="469.90" r="3.9" fill="#f08c4a"/>
<circle cx="222.10" cy="468.84" r="3.9" fill="#f08c4a"/>
<circle cx="229.86" cy="467.26" r="3.9" fill="#f08c4a"/>
<circle cx="237.62" cy="466.20" r="3.9" fill="#f08c4a"/>
</g>
<rect x="47.50" y="453.50" width="194.00" height="145.00" fill="none" stroke="#333333" stroke-width="1"/>
<line x1="66.50" y1="598.00" x2="66.50" y2="603.00" stroke="#333333" stroke-width="1"/>
<line x1="105.50" y1="598.00" x2="105.50" y2="603.00" stroke="#333333" stroke-width="1"/>
<line x1="144.50" y1="598.00" x2="144.50" y2="603.00" stroke="#333333" stroke-width="1"/>
<line x1="183.50" y1="598.00" x2="183.50" y2="603.00" stroke="#333333" stroke-width="1"/>
<line x1="222.50" y1="598.00" x2="222.50" y2="603.00" stroke="#333333" stroke-width="1"/>
<line x1="47.50" y1="598.00" x2="47.50" y2="601.00" stroke="#333333" stroke-width="1"/>
<line x1="86.50" y1="598.00" x2="86.50" y2="601.00" stroke="#333333" stroke-width="1"/>
<line x1="125.50" y1="598.00" x2="125.50" y2="601.00" stroke="#333333" stroke-width="1"/>
<line x1="163.50" y1="598.00" x2="163.50" y2="601.00" stroke="#333333" stroke-width="1"/>
<line x1="202.50" y1="598.00" x2="202.50" y2="601.00" stroke="#333333" stroke-width="1"/>
<line x1="241.50" y1="598.00" x2="241.50" y2="601.00" stroke="#333333" stroke-width="1"/>
<line x1="43.00" y1="598.50" x2="48.00" y2="598.50" stroke="#333333" stroke-width="1"/>
<line x1="43.00" y1="571.50" x2="48.00" y2="571.50" stroke="#333333" stroke-width="1"/>
<line x1="43.00" y1="545.50" x2="48.00" y2="545.50" stroke="#333333" stroke-width="1"/>
<line x1="43.00" y1="519.50" x2="48.00" y2="519.50" stroke="#333333" stroke-width="1"/>
<line x1="43.00" y1="492.50" x2="48.00" y2="492.50" stroke="#333333" stroke-width="1"/>
<line x1="43.00" y1="466.50" x2="48.00" y2="466.50" stroke="#333333" stroke-width="1"/>
<line x1="45.00" y1="585.50" x2="48.00" y2="585.50" stroke="#333333" stroke-width="1"/>
<line x1="45.00" y1="558.50" x2="48.00" y2="558.50" stroke="#333333" stroke-width="1"/>
<line x1="45.00" y1="532.50" x2="48.00" y2="532.50" stroke="#333333" stroke-width="1"/>
<line x1="45.00" y1="505.50" x2="48.00" y2="505.50" stroke="#333333" stroke-width="1"/>
<line x1="45.00" y1="479.50" x2="48.00" y2="479.50" stroke="#333333" stroke-width="1"/>
<line x1="45.00" y1="453.50" x2="48.00" y2="453.50" stroke="#333333" stroke-width="1"/>
<text x="66.90" y="613.50" font-size="12.0" text-anchor="middle" fill="#1e1e1e">-0.4</text>
<text x="105.70" y="613.50" font-size="12.0" text-anchor="middle" fill="#1e1e1e">-0.2</text>
<text x="144.50" y="613.50" font-size="12.0" text-anchor="middle" fill="#1e1e1e">0.0</text>
<text x="183.30" y="613.50" font-size="12.0" text-anchor="middle" fill="#1e1e1e">0.2</text>
<text x="222.10" y="613.50" font-size="12.0" text-anchor="middle" fill="#1e1e1e">0.4</text>
<text x="41.40" y="602.00" font-size="12.2" text-anchor="end" fill="#1e1e1e">-2.0</text>
<text x="41.40" y="575.60" font-size="12.2" text-anchor="end" fill="#1e1e1e">-1.5</text>
<text x="41.40" y="549.20" font-size="12.2" text-anchor="end" fill="#1e1e1e">-1.0</text>
<text x="41.40" y="522.80" font-size="12.2" text-anchor="end" fill="#1e1e1e">-0.5</text>
<text x="41.40" y="496.40" font-size="12.2" text-anchor="end" fill="#1e1e1e">0.0</text>
<text x="41.40" y="470.00" font-size="12.2" text-anchor="end" fill="#1e1e1e">0.5</text>
<circle cx="177.5" cy="571.6" r="3.9" fill="#2b6d98"/>
<circle cx="177.5" cy="583.9" r="3.9" fill="#f08c4a"/>
<text x="184.60" y="575.20" font-size="11.8" text-anchor="start" fill="#1e1e1e">0.1 M KCl</text>
<text x="187.30" y="587.40" font-size="11.8" text-anchor="start" fill="#1e1e1e">1 M KCl</text>
<text x="144.30" y="633.50" font-size="14.0" text-anchor="middle" fill="#1e1e1e">Voltage (V)</text>
<text x="16.60" y="525.10" font-size="14.2" text-anchor="middle" fill="#1e1e1e" transform="rotate(-90 16.60 525.10)">Current (mA)</text>
<text x="284.90" y="451.60" font-size="19.5" text-anchor="start" fill="#1e1e1e" font-weight="bold">h</text>
<rect x="342.90" y="522.04" width="19.60" height="74.26" fill="#2d6f99"/>
<line x1="352.70" y1="515.86" x2="352.70" y2="527.79" stroke="#111" stroke-width="1"/>
<line x1="350.10" y1="515.86" x2="355.30" y2="515.86" stroke="#111" stroke-width="1"/>
<line x1="350.10" y1="527.79" x2="355.30" y2="527.79" stroke="#111" stroke-width="1"/>
<rect x="378.45" y="487.57" width="19.60" height="108.73" fill="#2d6f99"/>
<line x1="388.25" y1="472.54" x2="388.25" y2="502.60" stroke="#111" stroke-width="1"/>
<line x1="385.65" y1="472.54" x2="390.85" y2="472.54" stroke="#111" stroke-width="1"/>
<line x1="385.65" y1="502.60" x2="390.85" y2="502.60" stroke="#111" stroke-width="1"/>
<rect x="414.00" y="541.49" width="19.60" height="54.81" fill="#2d6f99"/>
<line x1="423.80" y1="538.18" x2="423.80" y2="543.92" stroke="#111" stroke-width="1"/>
<line x1="421.20" y1="538.18" x2="426.40" y2="538.18" stroke="#111" stroke-width="1"/>
<line x1="421.20" y1="543.92" x2="426.40" y2="543.92" stroke="#111" stroke-width="1"/>
<rect x="449.55" y="543.70" width="19.60" height="52.60" fill="#2d6f99"/>
<line x1="459.35" y1="539.50" x2="459.35" y2="547.24" stroke="#111" stroke-width="1"/>
<line x1="456.75" y1="539.50" x2="461.95" y2="539.50" stroke="#111" stroke-width="1"/>
<line x1="456.75" y1="547.24" x2="461.95" y2="547.24" stroke="#111" stroke-width="1"/>
<rect x="485.10" y="548.78" width="19.60" height="47.51" fill="#2d6f99"/>
<line x1="494.90" y1="545.69" x2="494.90" y2="551.22" stroke="#111" stroke-width="1"/>
<line x1="492.30" y1="545.69" x2="497.50" y2="545.69" stroke="#111" stroke-width="1"/>
<line x1="492.30" y1="551.22" x2="497.50" y2="551.22" stroke="#111" stroke-width="1"/>
<rect x="325.50" y="452.50" width="195.00" height="144.00" fill="none" stroke="#333333" stroke-width="1"/>
<line x1="321.00" y1="596.50" x2="326.00" y2="596.50" stroke="#333333" stroke-width="1"/>
<line x1="321.00" y1="574.50" x2="326.00" y2="574.50" stroke="#333333" stroke-width="1"/>
<line x1="321.00" y1="552.50" x2="326.00" y2="552.50" stroke="#333333" stroke-width="1"/>
<line x1="321.00" y1="530.50" x2="326.00" y2="530.50" stroke="#333333" stroke-width="1"/>
<line x1="321.00" y1="507.50" x2="326.00" y2="507.50" stroke="#333333" stroke-width="1"/>
<line x1="321.00" y1="485.50" x2="326.00" y2="485.50" stroke="#333333" stroke-width="1"/>
<line x1="321.00" y1="463.50" x2="326.00" y2="463.50" stroke="#333333" stroke-width="1"/>
<line x1="323.00" y1="585.50" x2="326.00" y2="585.50" stroke="#333333" stroke-width="1"/>
<line x1="323.00" y1="563.50" x2="326.00" y2="563.50" stroke="#333333" stroke-width="1"/>
<line x1="323.00" y1="541.50" x2="326.00" y2="541.50" stroke="#333333" stroke-width="1"/>
<line x1="323.00" y1="518.50" x2="326.00" y2="518.50" stroke="#333333" stroke-width="1"/>
<line x1="323.00" y1="496.50" x2="326.00" y2="496.50" stroke="#333333" stroke-width="1"/>
<line x1="323.00" y1="474.50" x2="326.00" y2="474.50" stroke="#333333" stroke-width="1"/>
<line x1="342.00" y1="596.30" x2="342.00" y2="598.30" stroke="#333333" stroke-width="1"/>
<line x1="335.74" y1="596.30" x2="335.74" y2="598.30" stroke="#333333" stroke-width="1"/>
<line x1="331.30" y1="596.30" x2="331.30" y2="598.30" stroke="#333333" stroke-width="1"/>
<line x1="327.85" y1="596.30" x2="327.85" y2="598.30" stroke="#333333" stroke-width="1"/>
<line x1="325.04" y1="596.30" x2="325.04" y2="598.30" stroke="#333333" stroke-width="1"/>
<line x1="352.70" y1="596.30" x2="352.70" y2="600.30" stroke="#333333" stroke-width="1"/>
<line x1="377.55" y1="596.30" x2="377.55" y2="598.30" stroke="#333333" stroke-width="1"/>
<line x1="371.29" y1="596.30" x2="371.29" y2="598.30" stroke="#333333" stroke-width="1"/>
<line x1="366.85" y1="596.30" x2="366.85" y2="598.30" stroke="#333333" stroke-width="1"/>
<line x1="363.40" y1="596.30" x2="363.40" y2="598.30" stroke="#333333" stroke-width="1"/>
<line x1="360.59" y1="596.30" x2="360.59" y2="598.30" stroke="#333333" stroke-width="1"/>
<line x1="358.21" y1="596.30" x2="358.21" y2="598.30" stroke="#333333" stroke-width="1"/>
<line x1="356.15" y1="596.30" x2="356.15" y2="598.30" stroke="#333333" stroke-width="1"/>
<line x1="354.33" y1="596.30" x2="354.33" y2="598.30" stroke="#333333" stroke-width="1"/>
<line x1="388.25" y1="596.30" x2="388.25" y2="600.30" stroke="#333333" stroke-width="1"/>
<line x1="413.10" y1="596.30" x2="413.10" y2="598.30" stroke="#333333" stroke-width="1"/>
<line x1="406.84" y1="596.30" x2="406.84" y2="598.30" stroke="#333333" stroke-width="1"/>
<line x1="402.40" y1="596.30" x2="402.40" y2="598.30" stroke="#333333" stroke-width="1"/>
<line x1="398.95" y1="596.30" x2="398.95" y2="598.30" stroke="#333333" stroke-width="1"/>
<line x1="396.14" y1="596.30" x2="396.14" y2="598.30" stroke="#333333" stroke-width="1"/>
<line x1="393.76" y1="596.30" x2="393.76" y2="598.30" stroke="#333333" stroke-width="1"/>
<line x1="391.70" y1="596.30" x2="391.70" y2="598.30" stroke="#333333" stroke-width="1"/>
<line x1="389.88" y1="596.30" x2="389.88" y2="598.30" stroke="#333333" stroke-width="1"/>
<line x1="423.80" y1="596.30" x2="423.80" y2="600.30" stroke="#333333" stroke-width="1"/>
<line x1="448.65" y1="596.30" x2="448.65" y2="598.30" stroke="#333333" stroke-width="1"/>
<line x1="442.39" y1="596.30" x2="442.39" y2="598.30" stroke="#333333" stroke-width="1"/>
<line x1="437.95" y1="596.30" x2="437.95" y2="598.30" stroke="#333333" stroke-width="1"/>
<line x1="434.50" y1="596.30" x2="434.50" y2="598.30" stroke="#333333" stroke-width="1"/>
<line x1="431.69" y1="596.30" x2="431.69" y2="598.30" stroke="#333333" stroke-width="1"/>
<line x1="429.31" y1="596.30" x2="429.31" y2="598.30" stroke="#333333" stroke-width="1"/>
<line x1="427.25" y1="596.30" x2="427.25" y2="598.30" stroke="#333333" stroke-width="1"/>
<line x1="425.43" y1="596.30" x2="425.43" y2="598.30" stroke="#333333" stroke-width="1"/>
<line x1="459.35" y1="596.30" x2="459.35" y2="600.30" stroke="#333333" stroke-width="1"/>
<line x1="484.20" y1="596.30" x2="484.20" y2="598.30" stroke="#333333" stroke-width="1"/>
<line x1="477.94" y1="596.30" x2="477.94" y2="598.30" stroke="#333333" stroke-width="1"/>
<line x1="473.50" y1="596.30" x2="473.50" y2="598.30" stroke="#333333" stroke-width="1"/>
<line x1="470.05" y1="596.30" x2="470.05" y2="598.30" stroke="#333333" stroke-width="1"/>
<line x1="467.24" y1="596.30" x2="467.24" y2="598.30" stroke="#333333" stroke-width="1"/>
<line x1="464.86" y1="596.30" x2="464.86" y2="598.30" stroke="#333333" stroke-width="1"/>
<line x1="462.80" y1="596.30" x2="462.80" y2="598.30" stroke="#333333" stroke-width="1"/>
<line x1="460.98" y1="596.30" x2="460.98" y2="598.30" stroke="#333333" stroke-width="1"/>
<line x1="494.90" y1="596.30" x2="494.90" y2="600.30" stroke="#333333" stroke-width="1"/>
<line x1="519.75" y1="596.30" x2="519.75" y2="598.30" stroke="#333333" stroke-width="1"/>
<line x1="513.49" y1="596.30" x2="513.49" y2="598.30" stroke="#333333" stroke-width="1"/>
<line x1="509.05" y1="596.30" x2="509.05" y2="598.30" stroke="#333333" stroke-width="1"/>
<line x1="505.60" y1="596.30" x2="505.60" y2="598.30" stroke="#333333" stroke-width="1"/>
<line x1="502.79" y1="596.30" x2="502.79" y2="598.30" stroke="#333333" stroke-width="1"/>
<line x1="500.41" y1="596.30" x2="500.41" y2="598.30" stroke="#333333" stroke-width="1"/>
<line x1="498.35" y1="596.30" x2="498.35" y2="598.30" stroke="#333333" stroke-width="1"/>
<line x1="496.53" y1="596.30" x2="496.53" y2="598.30" stroke="#333333" stroke-width="1"/>
<text x="353.10" y="614.30" font-size="12.0" text-anchor="middle" fill="#1e1e1e">10<tspan dy="-5.00" font-size="8.2">0</tspan></text>
<text x="388.65" y="614.30" font-size="12.0" text-anchor="middle" fill="#1e1e1e">10<tspan dy="-5.00" font-size="8.2">-1</tspan></text>
<text x="424.20" y="614.30" font-size="12.0" text-anchor="middle" fill="#1e1e1e">10<tspan dy="-5.00" font-size="8.2">-2</tspan></text>
<text x="459.75" y="614.30" font-size="12.0" text-anchor="middle" fill="#1e1e1e">10<tspan dy="-5.00" font-size="8.2">-3</tspan></text>
<text x="495.30" y="614.30" font-size="12.0" text-anchor="middle" fill="#1e1e1e">10<tspan dy="-5.00" font-size="8.2">-4</tspan></text>
<text x="319.00" y="600.70" font-size="12.3" text-anchor="end" fill="#1e1e1e">0</text>
<text x="319.00" y="578.60" font-size="12.3" text-anchor="end" fill="#1e1e1e">1</text>
<text x="319.00" y="556.50" font-size="12.3" text-anchor="end" fill="#1e1e1e">2</text>
<text x="319.00" y="534.40" font-size="12.3" text-anchor="end" fill="#1e1e1e">3</text>
<text x="319.00" y="512.30" font-size="12.3" text-anchor="end" fill="#1e1e1e">4</text>
<text x="319.00" y="490.20" font-size="12.3" text-anchor="end" fill="#1e1e1e">5</text>
<text x="319.00" y="468.10" font-size="12.3" text-anchor="end" fill="#1e1e1e">6</text>
<text x="424.90" y="633.20" font-size="13.95" text-anchor="middle" fill="#1e1e1e">concentration gradient</text>
<text x="296.60" y="519.40" font-size="13.9" text-anchor="middle" fill="#1e1e1e" transform="rotate(-90 296.60 519.40)">Rectification ratio</text>
<text x="552.90" y="451.90" font-size="19.5" text-anchor="start" fill="#1e1e1e" font-weight="bold">i</text>
<linearGradient id="cbar" x1="0" y1="1" x2="0" y2="0"><stop offset="0.0000" stop-color="#262450"/><stop offset="0.0691" stop-color="#283463"/><stop offset="0.1356" stop-color="#2a4568"/><stop offset="0.2021" stop-color="#2a5567"/><stop offset="0.2686" stop-color="#2d6260"/><stop offset="0.3351" stop-color="#336a52"/><stop offset="0.4016" stop-color="#466f45"/><stop offset="0.4681" stop-color="#5f723d"/><stop offset="0.5346" stop-color="#7f773b"/><stop offset="0.6011" stop-color="#a07b40"/><stop offset="0.6676" stop-color="#c9834a"/><stop offset="0.7340" stop-color="#e28a5e"/><stop offset="0.8005" stop-color="#ee9079"/><stop offset="0.8670" stop-color="#f09a9c"/><stop offset="0.9335" stop-color="#eba4c0"/><stop offset="1.0000" stop-color="#e0abd9"/></linearGradient>
<rect x="749.20" y="448.10" width="6.80" height="166.20" fill="url(#cbar)"/>
<line x1="749.20" y1="602.81" x2="750.60" y2="602.81" stroke="#333" stroke-width="0.7"/>
<line x1="754.60" y1="602.81" x2="756.00" y2="602.81" stroke="#333" stroke-width="0.7"/>
<text x="758.80" y="606.31" font-size="9.9" text-anchor="start" fill="#333">100</text>
<line x1="749.20" y1="580.71" x2="750.60" y2="580.71" stroke="#333" stroke-width="0.7"/>
<line x1="754.60" y1="580.71" x2="756.00" y2="580.71" stroke="#333" stroke-width="0.7"/>
<text x="758.80" y="584.21" font-size="9.9" text-anchor="start" fill="#333">200</text>
<line x1="749.20" y1="558.61" x2="750.60" y2="558.61" stroke="#333" stroke-width="0.7"/>
<line x1="754.60" y1="558.61" x2="756.00" y2="558.61" stroke="#333" stroke-width="0.7"/>
<text x="758.80" y="562.11" font-size="9.9" text-anchor="start" fill="#333">300</text>
<line x1="749.20" y1="536.50" x2="750.60" y2="536.50" stroke="#333" stroke-width="0.7"/>
<line x1="754.60" y1="536.50" x2="756.00" y2="536.50" stroke="#333" stroke-width="0.7"/>
<text x="758.80" y="540.00" font-size="9.9" text-anchor="start" fill="#333">400</text>
<line x1="749.20" y1="514.40" x2="750.60" y2="514.40" stroke="#333" stroke-width="0.7"/>
<line x1="754.60" y1="514.40" x2="756.00" y2="514.40" stroke="#333" stroke-width="0.7"/>
<text x="758.80" y="517.90" font-size="9.9" text-anchor="start" fill="#333">500</text>
<line x1="749.20" y1="492.30" x2="750.60" y2="492.30" stroke="#333" stroke-width="0.7"/>
<line x1="754.60" y1="492.30" x2="756.00" y2="492.30" stroke="#333" stroke-width="0.7"/>
<text x="758.80" y="495.80" font-size="9.9" text-anchor="start" fill="#333">600</text>
<line x1="749.20" y1="470.20" x2="750.60" y2="470.20" stroke="#333" stroke-width="0.7"/>
<line x1="754.60" y1="470.20" x2="756.00" y2="470.20" stroke="#333" stroke-width="0.7"/>
<text x="758.80" y="473.70" font-size="9.9" text-anchor="start" fill="#333">700</text>
<line x1="749.20" y1="448.10" x2="750.60" y2="448.10" stroke="#333" stroke-width="0.7"/>
<line x1="754.60" y1="448.10" x2="756.00" y2="448.10" stroke="#333" stroke-width="0.7"/>
<text x="758.80" y="451.60" font-size="9.9" text-anchor="start" fill="#333">800</text>
<text x="750.40" y="637.30" font-size="13.8" text-anchor="middle" fill="#1e1e1e">Cp+Cn (mM)</text>
<text x="645.30" y="474.70" font-size="13.3" text-anchor="middle" fill="#1e1e1e">+1 V</text>
<rect x="575.00" y="488.00" width="75.30" height="16.60" fill="#272a50"/>
<linearGradient id="ch1" x1="0" y1="0" x2="1" y2="0"><stop offset="0" stop-color="#262a52"/><stop offset="0.1" stop-color="#2a4463"/><stop offset="0.22" stop-color="#2a5a62"/><stop offset="0.6" stop-color="#2f6459"/><stop offset="1" stop-color="#3d7048"/></linearGradient>
<rect x="650.30" y="494.00" width="70.50" height="4.80" fill="url(#ch1)"/>
<text x="646.30" y="550.40" font-size="13.3" text-anchor="middle" fill="#1e1e1e">-1 V</text>
<linearGradient id="res2" x1="0" y1="0" x2="1" y2="0"><stop offset="0" stop-color="#f1afbf"/><stop offset="1" stop-color="#e8b8d8"/></linearGradient>
<rect x="575.00" y="568.70" width="77.00" height="16.50" fill="url(#res2)"/>
<linearGradient id="ch2" x1="0" y1="0" x2="1" y2="0"><stop offset="0" stop-color="#e2b8d8"/><stop offset="0.45" stop-color="#eeaac6"/><stop offset="0.64" stop-color="#f19c98"/><stop offset="0.745" stop-color="#e88a5c"/><stop offset="0.82" stop-color="#9a7a3c"/><stop offset="0.885" stop-color="#3f6c4c"/><stop offset="0.94" stop-color="#2a4a64"/><stop offset="1" stop-color="#23234e"/></linearGradient>
<rect x="652.00" y="574.50" width="68.80" height="4.90" fill="url(#ch2)"/>
<line x1="652.00" y1="568.70" x2="652.00" y2="574.60" stroke="#8a7a8a" stroke-width="0.8"/>
<line x1="652.00" y1="579.30" x2="652.00" y2="585.20" stroke="#8a7a8a" stroke-width="0.8"/>
<line x1="652.00" y1="574.50" x2="720.80" y2="574.50" stroke="#9a8a9a" stroke-width="0.5"/>
<line x1="652.00" y1="579.40" x2="720.80" y2="579.40" stroke="#9a8a9a" stroke-width="0.5"/>
</svg>
</body></html>
